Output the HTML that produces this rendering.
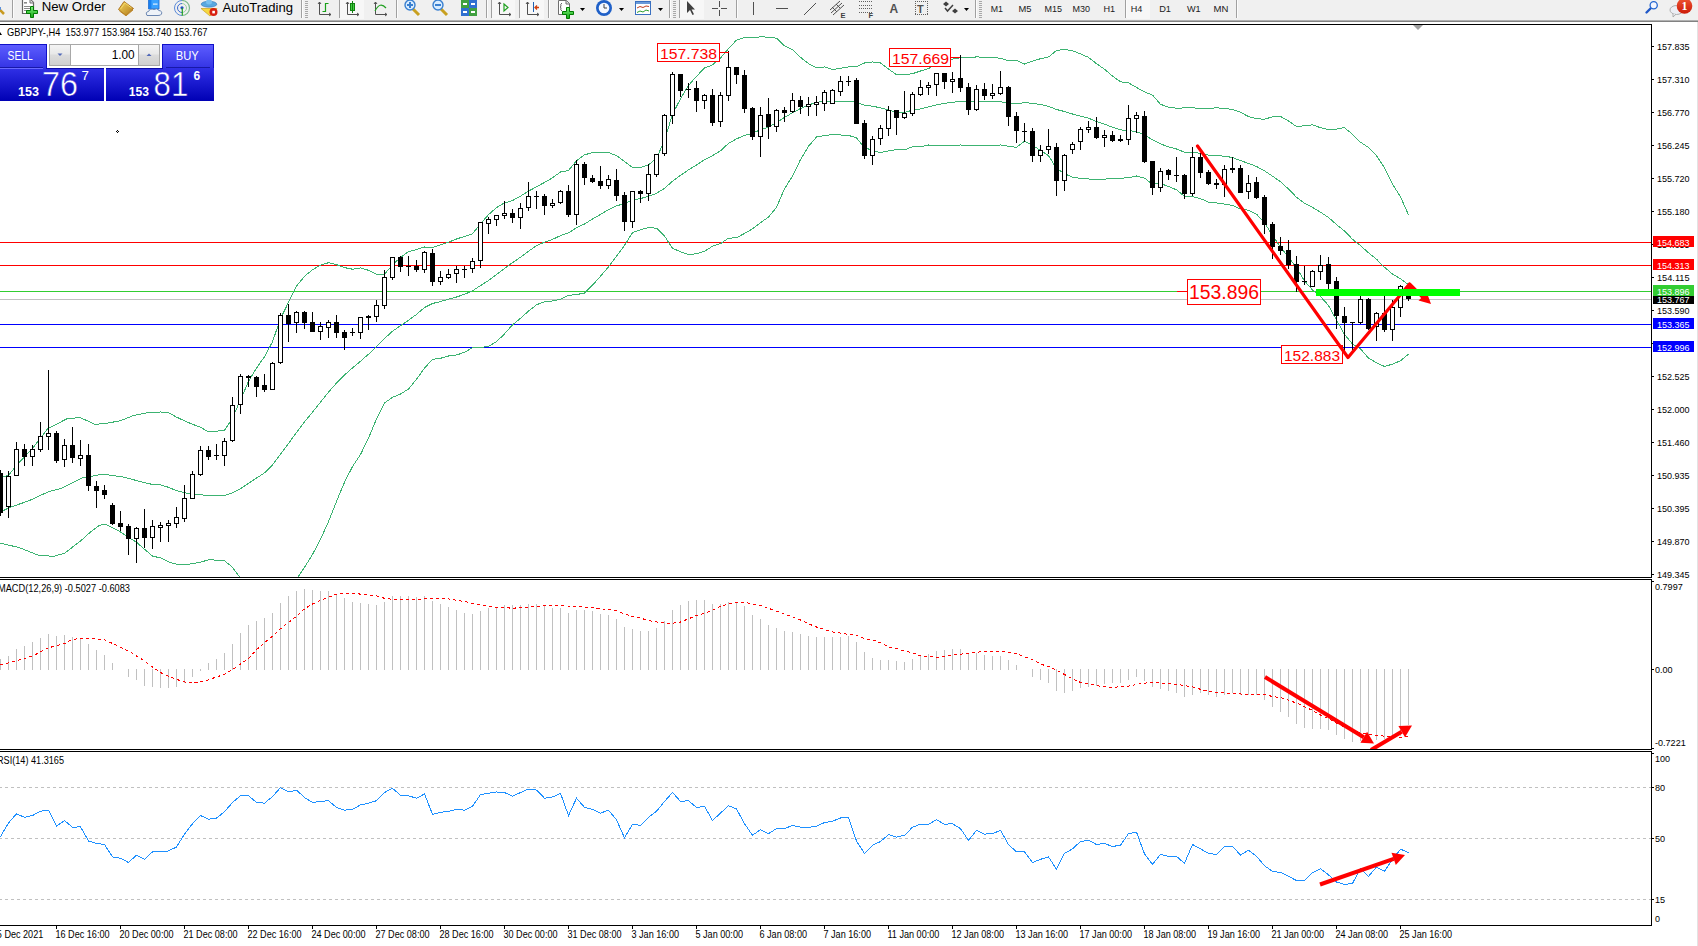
<!DOCTYPE html>
<html><head><meta charset="utf-8"><title>GBPJPY-,H4</title>
<style>
html,body{margin:0;padding:0;width:1698px;height:946px;overflow:hidden;background:#fff;}
#wrap{position:relative;width:1698px;height:946px;overflow:hidden;}
svg text{font-family:'Liberation Sans',Arial,sans-serif;}
</style></head><body><div id="wrap">
<svg width="1698" height="946" viewBox="0 0 1698 946" style="position:absolute;left:0;top:0">
<rect x="0" y="22" width="1698" height="924" fill="#fff"/>
<defs><clipPath id="mc"><rect x="0" y="25" width="1651" height="552"/></clipPath><clipPath id="mac"><rect x="0" y="580" width="1651" height="169"/></clipPath><clipPath id="rsc"><rect x="0" y="752" width="1651" height="173"/></clipPath></defs>
<rect x="1697" y="22" width="1" height="924" fill="#e3e3e3"/>
<g shape-rendering="crispEdges">
<rect x="0" y="242" width="1651" height="1" fill="#ff0000"/>
<rect x="0" y="265" width="1651" height="1" fill="#ff0000"/>
<rect x="0" y="291" width="1651" height="1" fill="#32cd32"/>
<rect x="0" y="299" width="1651" height="1" fill="#c0c0c0"/>
<rect x="0" y="324" width="1651" height="1" fill="#0000ff"/>
<rect x="0" y="347" width="1651" height="1" fill="#0000ff"/>
</g>
<g clip-path="url(#mc)" shape-rendering="crispEdges">
<polyline fill="none" stroke="#3cb371" stroke-width="1"  points="0.0,478.0 8.6,475.2 17.1,464.7 32.4,448.5 47.6,428.9 57.1,423.8 66.6,419.0 79.9,417.5 95.1,424.4 106.6,423.2 119.9,420.9 133.2,415.6 148.4,412.6 152.5,412.5 160.5,412.0 168.5,412.6 176.5,417.1 184.5,420.8 192.5,424.3 200.5,427.2 208.5,432.0 216.5,431.2 224.5,430.3 232.5,418.1 240.5,399.6 248.5,381.5 256.5,368.1 264.5,356.7 272.5,341.8 280.5,318.6 288.5,302.4 296.5,286.2 304.5,276.3 312.5,269.8 320.5,265.1 328.5,262.7 336.5,264.6 344.5,267.6 352.5,269.2 360.5,267.9 368.5,270.3 376.5,274.4 384.5,274.1 392.5,265.0 400.5,257.4 408.5,251.6 416.5,249.5 424.5,247.0 432.5,247.6 440.5,244.9 448.5,242.2 456.5,239.0 464.5,236.4 472.5,233.8 480.5,223.8 488.5,214.7 496.5,207.6 504.5,202.9 512.5,200.6 520.5,196.1 528.5,191.2 536.5,186.7 544.5,182.5 552.5,177.8 560.5,172.0 568.5,170.5 576.5,160.9 584.5,154.8 592.5,152.7 600.5,152.4 608.5,152.5 616.5,155.6 624.5,161.6 632.5,167.4 640.5,167.5 648.5,165.0 656.5,158.3 664.5,140.7 672.5,114.1 680.5,98.8 688.5,85.4 696.5,76.4 704.5,68.0 712.5,64.9 720.5,58.0 728.5,48.7 736.5,40.1 744.5,37.5 752.5,37.5 760.5,36.9 768.5,37.1 776.5,38.2 784.5,45.9 792.5,49.6 800.5,57.3 808.5,63.6 816.5,67.8 824.5,66.9 832.5,69.6 840.5,68.2 848.5,66.9 856.5,66.7 864.5,63.0 872.5,61.9 880.5,62.9 888.5,69.1 896.5,74.6 904.5,74.8 912.5,73.7 920.5,71.0 928.5,68.6 936.5,64.1 944.5,61.5 952.5,59.1 960.5,57.7 968.5,57.8 976.5,56.9 984.5,57.2 992.5,57.5 1000.5,58.3 1008.5,60.8 1016.5,60.3 1024.5,64.0 1032.5,61.2 1040.5,58.7 1048.5,57.0 1056.5,50.5 1064.5,49.4 1072.5,50.8 1080.5,53.8 1088.5,57.4 1096.5,63.7 1104.5,69.2 1112.5,76.0 1120.5,81.8 1128.5,82.8 1136.5,87.4 1144.5,91.9 1152.5,95.1 1160.5,104.3 1168.5,107.1 1176.5,108.2 1184.5,107.9 1192.5,107.9 1200.5,108.2 1208.5,108.3 1216.5,107.9 1224.5,108.3 1232.5,109.5 1240.5,112.2 1248.5,116.6 1256.5,118.8 1264.5,119.2 1272.5,116.8 1280.5,116.4 1288.5,120.9 1296.5,126.6 1304.5,125.7 1312.5,124.9 1320.5,127.7 1328.5,129.5 1336.5,129.1 1344.5,127.6 1352.5,134.4 1360.5,142.2 1368.5,147.5 1376.5,155.6 1384.5,167.9 1392.5,184.1 1400.5,196.8 1408.5,214.9"/>
<polyline fill="none" stroke="#3cb371" stroke-width="1"  points="0.0,512.3 9.5,507.5 28.5,500.9 49.5,491.3 60.9,488.5 81.8,478.0 102.8,474.2 123.7,477.1 148.4,483.7 152.5,484.3 160.5,484.9 168.5,487.3 176.5,490.7 184.5,492.7 192.5,494.0 200.5,494.7 208.5,495.9 216.5,495.6 224.5,495.4 232.5,492.8 240.5,488.8 248.5,483.3 256.5,478.1 264.5,472.9 272.5,464.8 280.5,454.2 288.5,443.4 296.5,432.6 304.5,421.9 312.5,412.1 320.5,402.2 328.5,392.2 336.5,383.0 344.5,375.0 352.5,367.9 360.5,361.2 368.5,354.2 376.5,346.7 384.5,338.6 392.5,331.2 400.5,325.7 408.5,320.3 416.5,314.4 424.5,307.5 432.5,303.5 440.5,301.6 448.5,299.1 456.5,297.0 464.5,294.3 472.5,290.8 480.5,285.6 488.5,280.5 496.5,274.6 504.5,268.4 512.5,262.7 520.5,257.2 528.5,251.2 536.5,245.7 544.5,242.1 552.5,239.4 560.5,235.6 568.5,232.9 576.5,227.7 584.5,224.0 592.5,219.0 600.5,214.4 608.5,209.6 616.5,205.9 624.5,203.5 632.5,200.0 640.5,198.6 648.5,196.3 656.5,193.3 664.5,188.3 672.5,181.2 680.5,175.3 688.5,169.9 696.5,165.1 704.5,159.6 712.5,155.6 720.5,150.8 728.5,143.4 736.5,138.9 744.5,135.5 752.5,133.2 760.5,129.7 768.5,127.1 776.5,122.8 784.5,117.4 792.5,112.8 800.5,108.5 808.5,105.0 816.5,102.4 824.5,101.3 832.5,102.0 840.5,101.6 848.5,101.2 856.5,102.3 864.5,105.3 872.5,106.2 880.5,107.8 888.5,110.0 896.5,112.1 904.5,112.4 912.5,110.2 920.5,108.9 928.5,106.8 936.5,104.9 944.5,103.4 952.5,102.3 960.5,101.4 968.5,101.6 976.5,101.0 984.5,101.2 992.5,101.3 1000.5,101.7 1008.5,103.5 1016.5,103.8 1024.5,102.6 1032.5,103.4 1040.5,104.5 1048.5,106.3 1056.5,109.5 1064.5,111.5 1072.5,114.0 1080.5,116.1 1088.5,118.2 1096.5,121.5 1104.5,124.1 1112.5,127.3 1120.5,129.9 1128.5,130.4 1136.5,131.7 1144.5,135.0 1152.5,139.7 1160.5,143.9 1168.5,146.8 1176.5,149.0 1184.5,152.2 1192.5,152.2 1200.5,153.4 1208.5,155.2 1216.5,155.5 1224.5,156.2 1232.5,157.5 1240.5,160.6 1248.5,163.4 1256.5,166.5 1264.5,170.9 1272.5,176.2 1280.5,181.7 1288.5,189.0 1296.5,197.3 1304.5,203.2 1312.5,207.4 1320.5,212.1 1328.5,217.5 1336.5,224.6 1344.5,231.0 1352.5,239.3 1360.5,245.6 1368.5,252.8 1376.5,259.2 1384.5,267.2 1392.5,274.1 1400.5,278.8 1408.5,284.6"/>
<polyline fill="none" stroke="#3cb371" stroke-width="1"  points="0.0,543.1 19.0,547.5 38.0,555.1 53.3,556.4 64.7,553.2 81.8,539.9 91.3,531.3 99.0,525.6 103.7,524.1 108.5,525.6 118.0,530.4 137.0,542.7 152.5,556.1 160.5,557.9 168.5,561.9 176.5,564.2 184.5,564.7 192.5,563.7 200.5,562.2 208.5,559.8 216.5,560.1 224.5,560.6 232.5,567.4 240.5,578.0 248.5,585.1 256.5,588.1 264.5,589.0 272.5,587.8 280.5,589.8 288.5,584.5 296.5,579.1 304.5,567.4 312.5,554.5 320.5,539.3 328.5,521.7 336.5,501.4 344.5,482.3 352.5,466.5 360.5,454.5 368.5,438.2 376.5,419.0 384.5,403.0 392.5,397.3 400.5,394.1 408.5,389.0 416.5,379.3 424.5,368.1 432.5,359.3 440.5,358.3 448.5,356.0 456.5,355.0 464.5,352.3 472.5,347.8 480.5,347.5 488.5,346.3 496.5,341.7 504.5,333.9 512.5,324.8 520.5,318.3 528.5,311.1 536.5,304.8 544.5,301.8 552.5,301.0 560.5,299.1 568.5,295.4 576.5,294.5 584.5,293.2 592.5,285.2 600.5,276.3 608.5,266.8 616.5,256.3 624.5,245.4 632.5,232.7 640.5,229.7 648.5,227.6 656.5,228.2 664.5,236.0 672.5,248.2 680.5,251.8 688.5,254.4 696.5,253.8 704.5,251.2 712.5,246.3 720.5,243.6 728.5,238.2 736.5,237.7 744.5,233.5 752.5,228.9 760.5,222.6 768.5,217.1 776.5,207.4 784.5,188.8 792.5,176.0 800.5,159.6 808.5,146.3 816.5,137.0 824.5,135.6 832.5,134.5 840.5,135.0 848.5,135.4 856.5,137.9 864.5,147.6 872.5,150.4 880.5,152.7 888.5,150.8 896.5,149.7 904.5,149.9 912.5,146.8 920.5,146.7 928.5,145.0 936.5,145.8 944.5,145.3 952.5,145.6 960.5,145.0 968.5,145.4 976.5,145.1 984.5,145.1 992.5,145.2 1000.5,145.0 1008.5,146.2 1016.5,147.3 1024.5,141.2 1032.5,145.5 1040.5,150.3 1048.5,155.6 1056.5,168.4 1064.5,173.7 1072.5,177.2 1080.5,178.4 1088.5,179.0 1096.5,179.2 1104.5,179.1 1112.5,178.5 1120.5,178.1 1128.5,177.9 1136.5,176.0 1144.5,178.1 1152.5,184.2 1160.5,183.5 1168.5,186.5 1176.5,189.8 1184.5,196.4 1192.5,196.5 1200.5,198.6 1208.5,202.2 1216.5,203.0 1224.5,204.1 1232.5,205.4 1240.5,209.0 1248.5,210.3 1256.5,214.1 1264.5,222.6 1272.5,235.6 1280.5,247.0 1288.5,257.1 1296.5,268.0 1304.5,280.8 1312.5,290.0 1320.5,296.5 1328.5,305.5 1336.5,320.0 1344.5,334.3 1352.5,344.1 1360.5,348.9 1368.5,358.1 1376.5,362.8 1384.5,366.5 1392.5,364.1 1400.5,360.8 1408.5,354.2"/>
</g>
<g shape-rendering="crispEdges">
<rect x="0" y="470" width="1" height="46" fill="#000"/>
<rect x="-2" y="473" width="5" height="40" fill="#000"/>
<rect x="8" y="471" width="1" height="47" fill="#000"/>
<rect x="6.5" y="476.5" width="4" height="30" fill="#fff" stroke="#000" stroke-width="1"/>
<rect x="16" y="442" width="1" height="34" fill="#000"/>
<rect x="14.5" y="449.5" width="4" height="26" fill="#fff" stroke="#000" stroke-width="1"/>
<rect x="24" y="444" width="1" height="22" fill="#000"/>
<rect x="22" y="449" width="5" height="8" fill="#000"/>
<rect x="32" y="445" width="1" height="21" fill="#000"/>
<rect x="30.5" y="449.5" width="4" height="7" fill="#fff" stroke="#000" stroke-width="1"/>
<rect x="40" y="422" width="1" height="30" fill="#000"/>
<rect x="38.5" y="436.5" width="4" height="13" fill="#fff" stroke="#000" stroke-width="1"/>
<rect x="48" y="370" width="1" height="80" fill="#000"/>
<rect x="46.5" y="433.5" width="4" height="3" fill="#fff" stroke="#000" stroke-width="1"/>
<rect x="56" y="431" width="1" height="32" fill="#000"/>
<rect x="54" y="433" width="5" height="28" fill="#000"/>
<rect x="64" y="439" width="1" height="28" fill="#000"/>
<rect x="62.5" y="445.5" width="4" height="14" fill="#fff" stroke="#000" stroke-width="1"/>
<rect x="72" y="427" width="1" height="36" fill="#000"/>
<rect x="70" y="445" width="5" height="13" fill="#000"/>
<rect x="80" y="440" width="1" height="26" fill="#000"/>
<rect x="78.5" y="455.5" width="4" height="3" fill="#fff" stroke="#000" stroke-width="1"/>
<rect x="88" y="444" width="1" height="47" fill="#000"/>
<rect x="86" y="455" width="5" height="31" fill="#000"/>
<rect x="96" y="481" width="1" height="27" fill="#000"/>
<rect x="94" y="486" width="5" height="5" fill="#000"/>
<rect x="104" y="485" width="1" height="14" fill="#000"/>
<rect x="102" y="490" width="5" height="5" fill="#000"/>
<rect x="112" y="503" width="1" height="22" fill="#000"/>
<rect x="110" y="505" width="5" height="19" fill="#000"/>
<rect x="120" y="511" width="1" height="20" fill="#000"/>
<rect x="118" y="523" width="5" height="4" fill="#000"/>
<rect x="128" y="524" width="1" height="31" fill="#000"/>
<rect x="126" y="526" width="5" height="13" fill="#000"/>
<rect x="136" y="527" width="1" height="36" fill="#000"/>
<rect x="134.5" y="528.5" width="4" height="10" fill="#fff" stroke="#000" stroke-width="1"/>
<rect x="144" y="509" width="1" height="39" fill="#000"/>
<rect x="142" y="528" width="5" height="10" fill="#000"/>
<rect x="152" y="520" width="1" height="29" fill="#000"/>
<rect x="150.5" y="526.5" width="4" height="11" fill="#fff" stroke="#000" stroke-width="1"/>
<rect x="160" y="522" width="1" height="20" fill="#000"/>
<rect x="158.5" y="525.5" width="4" height="2" fill="#fff" stroke="#000" stroke-width="1"/>
<rect x="168" y="520" width="1" height="22" fill="#000"/>
<rect x="166.5" y="523.5" width="4" height="2" fill="#fff" stroke="#000" stroke-width="1"/>
<rect x="176" y="507" width="1" height="21" fill="#000"/>
<rect x="174.5" y="517.5" width="4" height="6" fill="#fff" stroke="#000" stroke-width="1"/>
<rect x="184" y="485" width="1" height="37" fill="#000"/>
<rect x="182.5" y="498.5" width="4" height="20" fill="#fff" stroke="#000" stroke-width="1"/>
<rect x="192" y="471" width="1" height="28" fill="#000"/>
<rect x="190.5" y="474.5" width="4" height="24" fill="#fff" stroke="#000" stroke-width="1"/>
<rect x="200" y="446" width="1" height="30" fill="#000"/>
<rect x="198.5" y="450.5" width="4" height="24" fill="#fff" stroke="#000" stroke-width="1"/>
<rect x="208" y="446" width="1" height="14" fill="#000"/>
<rect x="206" y="450" width="5" height="7" fill="#000"/>
<rect x="216" y="444" width="1" height="16" fill="#000"/>
<rect x="214" y="455" width="5" height="1" fill="#000"/>
<rect x="224" y="438" width="1" height="28" fill="#000"/>
<rect x="222.5" y="441.5" width="4" height="14" fill="#fff" stroke="#000" stroke-width="1"/>
<rect x="232" y="397" width="1" height="45" fill="#000"/>
<rect x="230.5" y="405.5" width="4" height="35" fill="#fff" stroke="#000" stroke-width="1"/>
<rect x="240" y="374" width="1" height="40" fill="#000"/>
<rect x="238.5" y="376.5" width="4" height="28" fill="#fff" stroke="#000" stroke-width="1"/>
<rect x="248" y="375" width="1" height="12" fill="#000"/>
<rect x="246" y="376" width="5" height="2" fill="#000"/>
<rect x="256" y="376" width="1" height="21" fill="#000"/>
<rect x="254" y="377" width="5" height="10" fill="#000"/>
<rect x="264" y="374" width="1" height="18" fill="#000"/>
<rect x="262" y="385" width="5" height="5" fill="#000"/>
<rect x="272" y="362" width="1" height="28" fill="#000"/>
<rect x="270.5" y="363.5" width="4" height="26" fill="#fff" stroke="#000" stroke-width="1"/>
<rect x="280" y="313" width="1" height="51" fill="#000"/>
<rect x="278.5" y="315.5" width="4" height="47" fill="#fff" stroke="#000" stroke-width="1"/>
<rect x="288" y="304" width="1" height="38" fill="#000"/>
<rect x="286" y="315" width="5" height="9" fill="#000"/>
<rect x="296" y="311" width="1" height="22" fill="#000"/>
<rect x="294.5" y="312.5" width="4" height="10" fill="#fff" stroke="#000" stroke-width="1"/>
<rect x="304" y="311" width="1" height="18" fill="#000"/>
<rect x="302" y="312" width="5" height="11" fill="#000"/>
<rect x="312" y="312" width="1" height="20" fill="#000"/>
<rect x="310" y="322" width="5" height="10" fill="#000"/>
<rect x="320" y="322" width="1" height="18" fill="#000"/>
<rect x="318.5" y="326.5" width="4" height="5" fill="#fff" stroke="#000" stroke-width="1"/>
<rect x="328" y="320" width="1" height="18" fill="#000"/>
<rect x="326.5" y="322.5" width="4" height="5" fill="#fff" stroke="#000" stroke-width="1"/>
<rect x="336" y="315" width="1" height="23" fill="#000"/>
<rect x="334" y="322" width="5" height="11" fill="#000"/>
<rect x="344" y="330" width="1" height="20" fill="#000"/>
<rect x="342" y="332" width="5" height="6" fill="#000"/>
<rect x="352" y="328" width="1" height="8" fill="#000"/>
<rect x="350" y="332" width="5" height="1" fill="#000"/>
<rect x="360" y="317" width="1" height="22" fill="#000"/>
<rect x="358.5" y="317.5" width="4" height="15" fill="#fff" stroke="#000" stroke-width="1"/>
<rect x="368" y="315" width="1" height="15" fill="#000"/>
<rect x="366" y="316" width="5" height="2" fill="#000"/>
<rect x="376" y="300" width="1" height="22" fill="#000"/>
<rect x="374.5" y="305.5" width="4" height="11" fill="#fff" stroke="#000" stroke-width="1"/>
<rect x="384" y="270" width="1" height="39" fill="#000"/>
<rect x="382.5" y="277.5" width="4" height="28" fill="#fff" stroke="#000" stroke-width="1"/>
<rect x="392" y="257" width="1" height="23" fill="#000"/>
<rect x="390.5" y="257.5" width="4" height="20" fill="#fff" stroke="#000" stroke-width="1"/>
<rect x="400" y="256" width="1" height="16" fill="#000"/>
<rect x="398" y="257" width="5" height="10" fill="#000"/>
<rect x="408" y="256" width="1" height="20" fill="#000"/>
<rect x="406" y="266" width="5" height="1" fill="#000"/>
<rect x="416" y="260" width="1" height="12" fill="#000"/>
<rect x="414" y="266" width="5" height="4" fill="#000"/>
<rect x="424" y="251" width="1" height="22" fill="#000"/>
<rect x="422.5" y="252.5" width="4" height="17" fill="#fff" stroke="#000" stroke-width="1"/>
<rect x="432" y="249" width="1" height="37" fill="#000"/>
<rect x="430" y="253" width="5" height="29" fill="#000"/>
<rect x="440" y="271" width="1" height="14" fill="#000"/>
<rect x="438.5" y="277.5" width="4" height="4" fill="#fff" stroke="#000" stroke-width="1"/>
<rect x="448" y="269" width="1" height="10" fill="#000"/>
<rect x="446.5" y="274.5" width="4" height="3" fill="#fff" stroke="#000" stroke-width="1"/>
<rect x="456" y="266" width="1" height="17" fill="#000"/>
<rect x="454.5" y="269.5" width="4" height="4" fill="#fff" stroke="#000" stroke-width="1"/>
<rect x="464" y="266" width="1" height="12" fill="#000"/>
<rect x="462" y="269" width="5" height="1" fill="#000"/>
<rect x="472" y="258" width="1" height="15" fill="#000"/>
<rect x="470.5" y="261.5" width="4" height="7" fill="#fff" stroke="#000" stroke-width="1"/>
<rect x="480" y="222" width="1" height="46" fill="#000"/>
<rect x="478.5" y="222.5" width="4" height="38" fill="#fff" stroke="#000" stroke-width="1"/>
<rect x="488" y="217" width="1" height="17" fill="#000"/>
<rect x="486.5" y="219.5" width="4" height="4" fill="#fff" stroke="#000" stroke-width="1"/>
<rect x="496" y="215" width="1" height="11" fill="#000"/>
<rect x="494.5" y="215.5" width="4" height="4" fill="#fff" stroke="#000" stroke-width="1"/>
<rect x="504" y="201" width="1" height="18" fill="#000"/>
<rect x="502.5" y="213.5" width="4" height="2" fill="#fff" stroke="#000" stroke-width="1"/>
<rect x="512" y="209" width="1" height="14" fill="#000"/>
<rect x="510" y="213" width="5" height="5" fill="#000"/>
<rect x="520" y="203" width="1" height="26" fill="#000"/>
<rect x="518.5" y="208.5" width="4" height="9" fill="#fff" stroke="#000" stroke-width="1"/>
<rect x="528" y="182" width="1" height="29" fill="#000"/>
<rect x="526.5" y="196.5" width="4" height="11" fill="#fff" stroke="#000" stroke-width="1"/>
<rect x="536" y="191" width="1" height="18" fill="#000"/>
<rect x="534" y="196" width="5" height="1" fill="#000"/>
<rect x="544" y="194" width="1" height="21" fill="#000"/>
<rect x="542" y="196" width="5" height="10" fill="#000"/>
<rect x="552" y="199" width="1" height="9" fill="#000"/>
<rect x="550.5" y="203.5" width="4" height="2" fill="#fff" stroke="#000" stroke-width="1"/>
<rect x="560" y="190" width="1" height="14" fill="#000"/>
<rect x="558.5" y="191.5" width="4" height="11" fill="#fff" stroke="#000" stroke-width="1"/>
<rect x="568" y="185" width="1" height="32" fill="#000"/>
<rect x="566" y="191" width="5" height="24" fill="#000"/>
<rect x="576" y="160" width="1" height="65" fill="#000"/>
<rect x="574.5" y="164.5" width="4" height="50" fill="#fff" stroke="#000" stroke-width="1"/>
<rect x="584" y="162" width="1" height="23" fill="#000"/>
<rect x="582" y="164" width="5" height="14" fill="#000"/>
<rect x="592" y="175" width="1" height="8" fill="#000"/>
<rect x="590" y="178" width="5" height="4" fill="#000"/>
<rect x="600" y="166" width="1" height="23" fill="#000"/>
<rect x="598" y="181" width="5" height="5" fill="#000"/>
<rect x="608" y="175" width="1" height="14" fill="#000"/>
<rect x="606.5" y="179.5" width="4" height="6" fill="#fff" stroke="#000" stroke-width="1"/>
<rect x="616" y="169" width="1" height="32" fill="#000"/>
<rect x="614" y="180" width="5" height="16" fill="#000"/>
<rect x="624" y="192" width="1" height="39" fill="#000"/>
<rect x="622" y="195" width="5" height="27" fill="#000"/>
<rect x="632" y="191" width="1" height="37" fill="#000"/>
<rect x="630.5" y="191.5" width="4" height="30" fill="#fff" stroke="#000" stroke-width="1"/>
<rect x="640" y="190" width="1" height="13" fill="#000"/>
<rect x="638" y="191" width="5" height="3" fill="#000"/>
<rect x="648" y="164" width="1" height="37" fill="#000"/>
<rect x="646.5" y="174.5" width="4" height="19" fill="#fff" stroke="#000" stroke-width="1"/>
<rect x="656" y="154" width="1" height="23" fill="#000"/>
<rect x="654.5" y="154.5" width="4" height="20" fill="#fff" stroke="#000" stroke-width="1"/>
<rect x="664" y="114" width="1" height="42" fill="#000"/>
<rect x="662.5" y="115.5" width="4" height="38" fill="#fff" stroke="#000" stroke-width="1"/>
<rect x="672" y="72" width="1" height="52" fill="#000"/>
<rect x="670.5" y="74.5" width="4" height="41" fill="#fff" stroke="#000" stroke-width="1"/>
<rect x="680" y="74" width="1" height="23" fill="#000"/>
<rect x="678" y="74" width="5" height="17" fill="#000"/>
<rect x="688" y="83" width="1" height="15" fill="#000"/>
<rect x="686" y="89" width="5" height="1" fill="#000"/>
<rect x="696" y="81" width="1" height="31" fill="#000"/>
<rect x="694" y="88" width="5" height="13" fill="#000"/>
<rect x="704" y="94" width="1" height="15" fill="#000"/>
<rect x="702.5" y="95.5" width="4" height="5" fill="#fff" stroke="#000" stroke-width="1"/>
<rect x="712" y="89" width="1" height="37" fill="#000"/>
<rect x="710" y="95" width="5" height="28" fill="#000"/>
<rect x="720" y="92" width="1" height="35" fill="#000"/>
<rect x="718.5" y="95.5" width="4" height="26" fill="#fff" stroke="#000" stroke-width="1"/>
<rect x="728" y="51" width="1" height="50" fill="#000"/>
<rect x="726.5" y="67.5" width="4" height="28" fill="#fff" stroke="#000" stroke-width="1"/>
<rect x="736" y="67" width="1" height="17" fill="#000"/>
<rect x="734" y="67" width="5" height="8" fill="#000"/>
<rect x="744" y="70" width="1" height="43" fill="#000"/>
<rect x="742" y="75" width="5" height="34" fill="#000"/>
<rect x="752" y="107" width="1" height="33" fill="#000"/>
<rect x="750" y="108" width="5" height="29" fill="#000"/>
<rect x="760" y="107" width="1" height="50" fill="#000"/>
<rect x="758.5" y="115.5" width="4" height="21" fill="#fff" stroke="#000" stroke-width="1"/>
<rect x="768" y="98" width="1" height="41" fill="#000"/>
<rect x="766" y="114" width="5" height="13" fill="#000"/>
<rect x="776" y="109" width="1" height="23" fill="#000"/>
<rect x="774.5" y="110.5" width="4" height="16" fill="#fff" stroke="#000" stroke-width="1"/>
<rect x="784" y="107" width="1" height="15" fill="#000"/>
<rect x="782" y="110" width="5" height="3" fill="#000"/>
<rect x="792" y="93" width="1" height="20" fill="#000"/>
<rect x="790.5" y="100.5" width="4" height="11" fill="#fff" stroke="#000" stroke-width="1"/>
<rect x="800" y="96" width="1" height="18" fill="#000"/>
<rect x="798" y="100" width="5" height="7" fill="#000"/>
<rect x="808" y="97" width="1" height="19" fill="#000"/>
<rect x="806.5" y="104.5" width="4" height="2" fill="#fff" stroke="#000" stroke-width="1"/>
<rect x="816" y="96" width="1" height="20" fill="#000"/>
<rect x="814.5" y="102.5" width="4" height="2" fill="#fff" stroke="#000" stroke-width="1"/>
<rect x="824" y="90" width="1" height="21" fill="#000"/>
<rect x="822.5" y="92.5" width="4" height="11" fill="#fff" stroke="#000" stroke-width="1"/>
<rect x="832" y="89" width="1" height="15" fill="#000"/>
<rect x="830.5" y="90.5" width="4" height="13" fill="#fff" stroke="#000" stroke-width="1"/>
<rect x="840" y="76" width="1" height="20" fill="#000"/>
<rect x="838.5" y="81.5" width="4" height="10" fill="#fff" stroke="#000" stroke-width="1"/>
<rect x="848" y="76" width="1" height="10" fill="#000"/>
<rect x="846" y="81" width="5" height="1" fill="#000"/>
<rect x="856" y="78" width="1" height="46" fill="#000"/>
<rect x="854" y="80" width="5" height="44" fill="#000"/>
<rect x="864" y="120" width="1" height="39" fill="#000"/>
<rect x="862" y="123" width="5" height="33" fill="#000"/>
<rect x="872" y="136" width="1" height="29" fill="#000"/>
<rect x="870.5" y="139.5" width="4" height="16" fill="#fff" stroke="#000" stroke-width="1"/>
<rect x="880" y="125" width="1" height="20" fill="#000"/>
<rect x="878.5" y="128.5" width="4" height="10" fill="#fff" stroke="#000" stroke-width="1"/>
<rect x="888" y="106" width="1" height="30" fill="#000"/>
<rect x="886.5" y="110.5" width="4" height="18" fill="#fff" stroke="#000" stroke-width="1"/>
<rect x="896" y="110" width="1" height="25" fill="#000"/>
<rect x="894" y="110" width="5" height="8" fill="#000"/>
<rect x="904" y="91" width="1" height="28" fill="#000"/>
<rect x="902.5" y="113.5" width="4" height="4" fill="#fff" stroke="#000" stroke-width="1"/>
<rect x="912" y="92" width="1" height="24" fill="#000"/>
<rect x="910.5" y="94.5" width="4" height="19" fill="#fff" stroke="#000" stroke-width="1"/>
<rect x="920" y="80" width="1" height="16" fill="#000"/>
<rect x="918.5" y="87.5" width="4" height="7" fill="#fff" stroke="#000" stroke-width="1"/>
<rect x="928" y="82" width="1" height="13" fill="#000"/>
<rect x="926.5" y="85.5" width="4" height="2" fill="#fff" stroke="#000" stroke-width="1"/>
<rect x="936" y="73" width="1" height="23" fill="#000"/>
<rect x="934.5" y="73.5" width="4" height="11" fill="#fff" stroke="#000" stroke-width="1"/>
<rect x="944" y="73" width="1" height="16" fill="#000"/>
<rect x="942" y="73" width="5" height="9" fill="#000"/>
<rect x="952" y="72" width="1" height="21" fill="#000"/>
<rect x="950.5" y="79.5" width="4" height="2" fill="#fff" stroke="#000" stroke-width="1"/>
<rect x="960" y="55" width="1" height="37" fill="#000"/>
<rect x="958" y="78" width="5" height="10" fill="#000"/>
<rect x="968" y="83" width="1" height="32" fill="#000"/>
<rect x="966" y="87" width="5" height="23" fill="#000"/>
<rect x="976" y="85" width="1" height="26" fill="#000"/>
<rect x="974.5" y="89.5" width="4" height="20" fill="#fff" stroke="#000" stroke-width="1"/>
<rect x="984" y="83" width="1" height="17" fill="#000"/>
<rect x="982" y="89" width="5" height="7" fill="#000"/>
<rect x="992" y="84" width="1" height="15" fill="#000"/>
<rect x="990.5" y="93.5" width="4" height="2" fill="#fff" stroke="#000" stroke-width="1"/>
<rect x="1000" y="71" width="1" height="24" fill="#000"/>
<rect x="998.5" y="87.5" width="4" height="6" fill="#fff" stroke="#000" stroke-width="1"/>
<rect x="1008" y="86" width="1" height="40" fill="#000"/>
<rect x="1006" y="87" width="5" height="30" fill="#000"/>
<rect x="1016" y="112" width="1" height="31" fill="#000"/>
<rect x="1014" y="116" width="5" height="15" fill="#000"/>
<rect x="1024" y="123" width="1" height="19" fill="#000"/>
<rect x="1022" y="131" width="5" height="1" fill="#000"/>
<rect x="1032" y="128" width="1" height="34" fill="#000"/>
<rect x="1030" y="131" width="5" height="25" fill="#000"/>
<rect x="1040" y="145" width="1" height="17" fill="#000"/>
<rect x="1038.5" y="150.5" width="4" height="5" fill="#fff" stroke="#000" stroke-width="1"/>
<rect x="1048" y="129" width="1" height="25" fill="#000"/>
<rect x="1046.5" y="146.5" width="4" height="3" fill="#fff" stroke="#000" stroke-width="1"/>
<rect x="1056" y="143" width="1" height="53" fill="#000"/>
<rect x="1054" y="147" width="5" height="34" fill="#000"/>
<rect x="1064" y="154" width="1" height="37" fill="#000"/>
<rect x="1062.5" y="155.5" width="4" height="25" fill="#fff" stroke="#000" stroke-width="1"/>
<rect x="1072" y="142" width="1" height="12" fill="#000"/>
<rect x="1070.5" y="144.5" width="4" height="5" fill="#fff" stroke="#000" stroke-width="1"/>
<rect x="1080" y="127" width="1" height="23" fill="#000"/>
<rect x="1078.5" y="129.5" width="4" height="12" fill="#fff" stroke="#000" stroke-width="1"/>
<rect x="1088" y="121" width="1" height="12" fill="#000"/>
<rect x="1086.5" y="127.5" width="4" height="2" fill="#fff" stroke="#000" stroke-width="1"/>
<rect x="1096" y="117" width="1" height="22" fill="#000"/>
<rect x="1094" y="127" width="5" height="11" fill="#000"/>
<rect x="1104" y="130" width="1" height="17" fill="#000"/>
<rect x="1102.5" y="135.5" width="4" height="2" fill="#fff" stroke="#000" stroke-width="1"/>
<rect x="1112" y="131" width="1" height="11" fill="#000"/>
<rect x="1110" y="135" width="5" height="6" fill="#000"/>
<rect x="1120" y="135" width="1" height="7" fill="#000"/>
<rect x="1118" y="139" width="5" height="2" fill="#000"/>
<rect x="1128" y="105" width="1" height="40" fill="#000"/>
<rect x="1126.5" y="118.5" width="4" height="21" fill="#fff" stroke="#000" stroke-width="1"/>
<rect x="1136" y="112" width="1" height="21" fill="#000"/>
<rect x="1134.5" y="115.5" width="4" height="3" fill="#fff" stroke="#000" stroke-width="1"/>
<rect x="1144" y="111" width="1" height="52" fill="#000"/>
<rect x="1142" y="116" width="5" height="46" fill="#000"/>
<rect x="1152" y="161" width="1" height="34" fill="#000"/>
<rect x="1150" y="161" width="5" height="27" fill="#000"/>
<rect x="1160" y="168" width="1" height="24" fill="#000"/>
<rect x="1158.5" y="171.5" width="4" height="16" fill="#fff" stroke="#000" stroke-width="1"/>
<rect x="1168" y="169" width="1" height="11" fill="#000"/>
<rect x="1166" y="170" width="5" height="5" fill="#000"/>
<rect x="1176" y="157" width="1" height="25" fill="#000"/>
<rect x="1174" y="175" width="5" height="1" fill="#000"/>
<rect x="1184" y="174" width="1" height="25" fill="#000"/>
<rect x="1182" y="175" width="5" height="19" fill="#000"/>
<rect x="1192" y="147" width="1" height="49" fill="#000"/>
<rect x="1190.5" y="157.5" width="4" height="36" fill="#fff" stroke="#000" stroke-width="1"/>
<rect x="1200" y="153" width="1" height="25" fill="#000"/>
<rect x="1198" y="157" width="5" height="16" fill="#000"/>
<rect x="1208" y="170" width="1" height="15" fill="#000"/>
<rect x="1206" y="172" width="5" height="12" fill="#000"/>
<rect x="1216" y="179" width="1" height="10" fill="#000"/>
<rect x="1214" y="183" width="5" height="2" fill="#000"/>
<rect x="1224" y="165" width="1" height="32" fill="#000"/>
<rect x="1222.5" y="169.5" width="4" height="15" fill="#fff" stroke="#000" stroke-width="1"/>
<rect x="1232" y="157" width="1" height="16" fill="#000"/>
<rect x="1230" y="168" width="5" height="2" fill="#000"/>
<rect x="1240" y="165" width="1" height="28" fill="#000"/>
<rect x="1238" y="168" width="5" height="25" fill="#000"/>
<rect x="1248" y="175" width="1" height="24" fill="#000"/>
<rect x="1246.5" y="183.5" width="4" height="8" fill="#fff" stroke="#000" stroke-width="1"/>
<rect x="1256" y="177" width="1" height="22" fill="#000"/>
<rect x="1254" y="182" width="5" height="16" fill="#000"/>
<rect x="1264" y="195" width="1" height="39" fill="#000"/>
<rect x="1262" y="197" width="5" height="28" fill="#000"/>
<rect x="1272" y="222" width="1" height="37" fill="#000"/>
<rect x="1270" y="224" width="5" height="23" fill="#000"/>
<rect x="1280" y="237" width="1" height="18" fill="#000"/>
<rect x="1278" y="246" width="5" height="5" fill="#000"/>
<rect x="1288" y="240" width="1" height="29" fill="#000"/>
<rect x="1286" y="250" width="5" height="15" fill="#000"/>
<rect x="1296" y="256" width="1" height="36" fill="#000"/>
<rect x="1294" y="264" width="5" height="18" fill="#000"/>
<rect x="1304" y="266" width="1" height="19" fill="#000"/>
<rect x="1302" y="281" width="5" height="1" fill="#000"/>
<rect x="1312" y="270" width="1" height="17" fill="#000"/>
<rect x="1310.5" y="271.5" width="4" height="15" fill="#fff" stroke="#000" stroke-width="1"/>
<rect x="1320" y="255" width="1" height="25" fill="#000"/>
<rect x="1318.5" y="265.5" width="4" height="6" fill="#fff" stroke="#000" stroke-width="1"/>
<rect x="1328" y="257" width="1" height="32" fill="#000"/>
<rect x="1326" y="264" width="5" height="20" fill="#000"/>
<rect x="1336" y="277" width="1" height="52" fill="#000"/>
<rect x="1334" y="281" width="5" height="35" fill="#000"/>
<rect x="1344" y="307" width="1" height="47" fill="#000"/>
<rect x="1342" y="316" width="5" height="7" fill="#000"/>
<rect x="1352" y="322" width="1" height="28" fill="#000"/>
<rect x="1350" y="322" width="5" height="1" fill="#000"/>
<rect x="1360" y="296" width="1" height="28" fill="#000"/>
<rect x="1358.5" y="299.5" width="4" height="23" fill="#fff" stroke="#000" stroke-width="1"/>
<rect x="1368" y="298" width="1" height="32" fill="#000"/>
<rect x="1366" y="299" width="5" height="30" fill="#000"/>
<rect x="1376" y="312" width="1" height="29" fill="#000"/>
<rect x="1374.5" y="313.5" width="4" height="13" fill="#fff" stroke="#000" stroke-width="1"/>
<rect x="1384" y="296" width="1" height="36" fill="#000"/>
<rect x="1382" y="313" width="5" height="17" fill="#000"/>
<rect x="1392" y="300" width="1" height="41" fill="#000"/>
<rect x="1390.5" y="307.5" width="4" height="22" fill="#fff" stroke="#000" stroke-width="1"/>
<rect x="1400" y="285" width="1" height="32" fill="#000"/>
<rect x="1398.5" y="286.5" width="4" height="21" fill="#fff" stroke="#000" stroke-width="1"/>
<rect x="1408" y="285" width="1" height="16" fill="#000"/>
<rect x="1406" y="286" width="5" height="13" fill="#000"/>
</g>
<g shape-rendering="crispEdges" fill="#000">
<rect x="0" y="24" width="1652" height="1"/>
<rect x="0" y="577" width="1652" height="1"/>
<rect x="0" y="579" width="1652" height="1"/>
<rect x="0" y="749" width="1652" height="1"/>
<rect x="0" y="751" width="1652" height="1"/>
<rect x="0" y="925" width="1652" height="1"/>
<rect x="1651" y="24" width="1" height="554"/>
<rect x="1651" y="579" width="1" height="171"/>
<rect x="1651" y="751" width="1" height="175"/>
</g>
<polygon points="1413,25 1423,25 1418,30" fill="#a0a0a0"/>
<g fill="#000" shape-rendering="crispEdges"><rect x="117" y="130" width="1" height="1"/><rect x="116" y="131" width="1" height="1"/><rect x="118" y="131" width="1" height="1"/><rect x="117" y="132" width="1" height="1"/></g>
<g style="font-family:'Liberation Sans',Arial,sans-serif">
<g shape-rendering="crispEdges" fill="#000">
<rect x="1652" y="46" width="2" height="1"/>
<rect x="1652" y="79" width="2" height="1"/>
<rect x="1652" y="112" width="2" height="1"/>
<rect x="1652" y="145" width="2" height="1"/>
<rect x="1652" y="178" width="2" height="1"/>
<rect x="1652" y="211" width="2" height="1"/>
<rect x="1652" y="244" width="2" height="1"/>
<rect x="1652" y="277" width="2" height="1"/>
<rect x="1652" y="310" width="2" height="1"/>
<rect x="1652" y="343" width="2" height="1"/>
<rect x="1652" y="376" width="2" height="1"/>
<rect x="1652" y="409" width="2" height="1"/>
<rect x="1652" y="442" width="2" height="1"/>
<rect x="1652" y="475" width="2" height="1"/>
<rect x="1652" y="508" width="2" height="1"/>
<rect x="1652" y="541" width="2" height="1"/>
<rect x="1652" y="574" width="2" height="1"/>
</g>
<text x="1657" y="50.1" font-size="9.6" fill="#000" text-anchor="start" font-weight="normal" textLength="32.6" lengthAdjust="spacingAndGlyphs" >157.835</text>
<text x="1657" y="83.1" font-size="9.6" fill="#000" text-anchor="start" font-weight="normal" textLength="32.6" lengthAdjust="spacingAndGlyphs" >157.310</text>
<text x="1657" y="116.1" font-size="9.6" fill="#000" text-anchor="start" font-weight="normal" textLength="32.6" lengthAdjust="spacingAndGlyphs" >156.770</text>
<text x="1657" y="149.1" font-size="9.6" fill="#000" text-anchor="start" font-weight="normal" textLength="32.6" lengthAdjust="spacingAndGlyphs" >156.245</text>
<text x="1657" y="182.1" font-size="9.6" fill="#000" text-anchor="start" font-weight="normal" textLength="32.6" lengthAdjust="spacingAndGlyphs" >155.720</text>
<text x="1657" y="215.1" font-size="9.6" fill="#000" text-anchor="start" font-weight="normal" textLength="32.6" lengthAdjust="spacingAndGlyphs" >155.180</text>
<text x="1657" y="248.1" font-size="9.6" fill="#000" text-anchor="start" font-weight="normal" textLength="32.6" lengthAdjust="spacingAndGlyphs" >154.655</text>
<text x="1657" y="281.1" font-size="9.6" fill="#000" text-anchor="start" font-weight="normal" textLength="32.6" lengthAdjust="spacingAndGlyphs" >154.115</text>
<text x="1657" y="314.1" font-size="9.6" fill="#000" text-anchor="start" font-weight="normal" textLength="32.6" lengthAdjust="spacingAndGlyphs" >153.590</text>
<text x="1657" y="347.1" font-size="9.6" fill="#000" text-anchor="start" font-weight="normal" textLength="32.6" lengthAdjust="spacingAndGlyphs" >153.065</text>
<text x="1657" y="380.1" font-size="9.6" fill="#000" text-anchor="start" font-weight="normal" textLength="32.6" lengthAdjust="spacingAndGlyphs" >152.525</text>
<text x="1657" y="413.1" font-size="9.6" fill="#000" text-anchor="start" font-weight="normal" textLength="32.6" lengthAdjust="spacingAndGlyphs" >152.000</text>
<text x="1657" y="446.1" font-size="9.6" fill="#000" text-anchor="start" font-weight="normal" textLength="32.6" lengthAdjust="spacingAndGlyphs" >151.460</text>
<text x="1657" y="479.1" font-size="9.6" fill="#000" text-anchor="start" font-weight="normal" textLength="32.6" lengthAdjust="spacingAndGlyphs" >150.935</text>
<text x="1657" y="512.1" font-size="9.6" fill="#000" text-anchor="start" font-weight="normal" textLength="32.6" lengthAdjust="spacingAndGlyphs" >150.395</text>
<text x="1657" y="545.1" font-size="9.6" fill="#000" text-anchor="start" font-weight="normal" textLength="32.6" lengthAdjust="spacingAndGlyphs" >149.870</text>
<text x="1657" y="578.1" font-size="9.6" fill="#000" text-anchor="start" font-weight="normal" textLength="32.6" lengthAdjust="spacingAndGlyphs" >149.345</text>
<rect x="1653" y="236" width="41" height="11" fill="#ff0000" shape-rendering="crispEdges"/>
<text x="1657" y="245.7" font-size="9.6" fill="#fff" text-anchor="start" font-weight="normal" textLength="32.6" lengthAdjust="spacingAndGlyphs" >154.683</text>
<rect x="1653" y="259" width="41" height="11" fill="#ff0000" shape-rendering="crispEdges"/>
<text x="1657" y="268.7" font-size="9.6" fill="#fff" text-anchor="start" font-weight="normal" textLength="32.6" lengthAdjust="spacingAndGlyphs" >154.313</text>
<rect x="1653" y="293" width="41" height="11" fill="#000" shape-rendering="crispEdges"/>
<text x="1657" y="302.7" font-size="9.6" fill="#fff" text-anchor="start" font-weight="normal" textLength="32.6" lengthAdjust="spacingAndGlyphs" >153.767</text>
<rect x="1653" y="285" width="41" height="11" fill="#32cd32" shape-rendering="crispEdges"/>
<text x="1657" y="294.7" font-size="9.6" fill="#fff" text-anchor="start" font-weight="normal" textLength="32.6" lengthAdjust="spacingAndGlyphs" >153.896</text>
<rect x="1653" y="318" width="41" height="11" fill="#0000ff" shape-rendering="crispEdges"/>
<text x="1657" y="327.7" font-size="9.6" fill="#fff" text-anchor="start" font-weight="normal" textLength="32.6" lengthAdjust="spacingAndGlyphs" >153.365</text>
<rect x="1653" y="341" width="41" height="11" fill="#0000ff" shape-rendering="crispEdges"/>
<text x="1657" y="350.7" font-size="9.6" fill="#fff" text-anchor="start" font-weight="normal" textLength="32.6" lengthAdjust="spacingAndGlyphs" >152.996</text>
<g shape-rendering="crispEdges" fill="#000">
<rect x="56" y="926" width="1" height="3"/>
<rect x="120" y="926" width="1" height="3"/>
<rect x="184" y="926" width="1" height="3"/>
<rect x="248" y="926" width="1" height="3"/>
<rect x="312" y="926" width="1" height="3"/>
<rect x="376" y="926" width="1" height="3"/>
<rect x="440" y="926" width="1" height="3"/>
<rect x="504" y="926" width="1" height="3"/>
<rect x="568" y="926" width="1" height="3"/>
<rect x="632" y="926" width="1" height="3"/>
<rect x="696" y="926" width="1" height="3"/>
<rect x="760" y="926" width="1" height="3"/>
<rect x="824" y="926" width="1" height="3"/>
<rect x="888" y="926" width="1" height="3"/>
<rect x="952" y="926" width="1" height="3"/>
<rect x="1016" y="926" width="1" height="3"/>
<rect x="1080" y="926" width="1" height="3"/>
<rect x="1144" y="926" width="1" height="3"/>
<rect x="1208" y="926" width="1" height="3"/>
<rect x="1272" y="926" width="1" height="3"/>
<rect x="1336" y="926" width="1" height="3"/>
<rect x="1400" y="926" width="1" height="3"/>
</g>
<text x="55.5" y="938" font-size="10.2" fill="#000" text-anchor="start" font-weight="normal" textLength="54.0" lengthAdjust="spacingAndGlyphs" >16 Dec 16:00</text>
<text x="119.5" y="938" font-size="10.2" fill="#000" text-anchor="start" font-weight="normal" textLength="54.0" lengthAdjust="spacingAndGlyphs" >20 Dec 00:00</text>
<text x="183.5" y="938" font-size="10.2" fill="#000" text-anchor="start" font-weight="normal" textLength="54.0" lengthAdjust="spacingAndGlyphs" >21 Dec 08:00</text>
<text x="247.5" y="938" font-size="10.2" fill="#000" text-anchor="start" font-weight="normal" textLength="54.0" lengthAdjust="spacingAndGlyphs" >22 Dec 16:00</text>
<text x="311.5" y="938" font-size="10.2" fill="#000" text-anchor="start" font-weight="normal" textLength="54.0" lengthAdjust="spacingAndGlyphs" >24 Dec 00:00</text>
<text x="375.5" y="938" font-size="10.2" fill="#000" text-anchor="start" font-weight="normal" textLength="54.0" lengthAdjust="spacingAndGlyphs" >27 Dec 08:00</text>
<text x="439.5" y="938" font-size="10.2" fill="#000" text-anchor="start" font-weight="normal" textLength="54.0" lengthAdjust="spacingAndGlyphs" >28 Dec 16:00</text>
<text x="503.5" y="938" font-size="10.2" fill="#000" text-anchor="start" font-weight="normal" textLength="54.0" lengthAdjust="spacingAndGlyphs" >30 Dec 00:00</text>
<text x="567.5" y="938" font-size="10.2" fill="#000" text-anchor="start" font-weight="normal" textLength="54.0" lengthAdjust="spacingAndGlyphs" >31 Dec 08:00</text>
<text x="631.5" y="938" font-size="10.2" fill="#000" text-anchor="start" font-weight="normal" textLength="47.5" lengthAdjust="spacingAndGlyphs" >3 Jan 16:00</text>
<text x="695.5" y="938" font-size="10.2" fill="#000" text-anchor="start" font-weight="normal" textLength="47.5" lengthAdjust="spacingAndGlyphs" >5 Jan 00:00</text>
<text x="759.5" y="938" font-size="10.2" fill="#000" text-anchor="start" font-weight="normal" textLength="47.5" lengthAdjust="spacingAndGlyphs" >6 Jan 08:00</text>
<text x="823.5" y="938" font-size="10.2" fill="#000" text-anchor="start" font-weight="normal" textLength="47.5" lengthAdjust="spacingAndGlyphs" >7 Jan 16:00</text>
<text x="887.5" y="938" font-size="10.2" fill="#000" text-anchor="start" font-weight="normal" textLength="51.8" lengthAdjust="spacingAndGlyphs" >11 Jan 00:00</text>
<text x="951.5" y="938" font-size="10.2" fill="#000" text-anchor="start" font-weight="normal" textLength="52.5" lengthAdjust="spacingAndGlyphs" >12 Jan 08:00</text>
<text x="1015.5" y="938" font-size="10.2" fill="#000" text-anchor="start" font-weight="normal" textLength="52.5" lengthAdjust="spacingAndGlyphs" >13 Jan 16:00</text>
<text x="1079.5" y="938" font-size="10.2" fill="#000" text-anchor="start" font-weight="normal" textLength="52.5" lengthAdjust="spacingAndGlyphs" >17 Jan 00:00</text>
<text x="1143.5" y="938" font-size="10.2" fill="#000" text-anchor="start" font-weight="normal" textLength="52.5" lengthAdjust="spacingAndGlyphs" >18 Jan 08:00</text>
<text x="1207.5" y="938" font-size="10.2" fill="#000" text-anchor="start" font-weight="normal" textLength="52.5" lengthAdjust="spacingAndGlyphs" >19 Jan 16:00</text>
<text x="1271.5" y="938" font-size="10.2" fill="#000" text-anchor="start" font-weight="normal" textLength="52.5" lengthAdjust="spacingAndGlyphs" >21 Jan 00:00</text>
<text x="1335.5" y="938" font-size="10.2" fill="#000" text-anchor="start" font-weight="normal" textLength="52.5" lengthAdjust="spacingAndGlyphs" >24 Jan 08:00</text>
<text x="1399.5" y="938" font-size="10.2" fill="#000" text-anchor="start" font-weight="normal" textLength="52.5" lengthAdjust="spacingAndGlyphs" >25 Jan 16:00</text>
<text x="-8.2212" y="938" font-size="10.2" fill="#000" text-anchor="start" font-weight="normal" textLength="51.5" lengthAdjust="spacingAndGlyphs" >15 Dec 2021</text>
<text x="7" y="36" font-size="10.2" fill="#000" text-anchor="start" font-weight="normal" textLength="200.5" lengthAdjust="spacingAndGlyphs" >GBPJPY-,H4&#160;&#160;153.977 153.984 153.740 153.767</text>
<polygon points="0,32 2,35 0,35" fill="#000"/>
</g>
<g shape-rendering="crispEdges" fill="#c0c0c0">
<rect x="0" y="659" width="1" height="11"/>
<rect x="8" y="656" width="1" height="14"/>
<rect x="16" y="649" width="1" height="21"/>
<rect x="24" y="646" width="1" height="24"/>
<rect x="32" y="642" width="1" height="28"/>
<rect x="40" y="638" width="1" height="32"/>
<rect x="48" y="634" width="1" height="36"/>
<rect x="56" y="636" width="1" height="34"/>
<rect x="64" y="635" width="1" height="35"/>
<rect x="72" y="637" width="1" height="33"/>
<rect x="80" y="638" width="1" height="32"/>
<rect x="88" y="644" width="1" height="26"/>
<rect x="96" y="650" width="1" height="20"/>
<rect x="104" y="655" width="1" height="15"/>
<rect x="112" y="663" width="1" height="7"/>
<rect x="128" y="669" width="1" height="8"/>
<rect x="136" y="669" width="1" height="11"/>
<rect x="144" y="669" width="1" height="17"/>
<rect x="152" y="669" width="1" height="18"/>
<rect x="160" y="669" width="1" height="19"/>
<rect x="168" y="669" width="1" height="19"/>
<rect x="176" y="669" width="1" height="18"/>
<rect x="184" y="669" width="1" height="14"/>
<rect x="192" y="669" width="1" height="8"/>
<rect x="200" y="669" width="1" height="2"/>
<rect x="208" y="663" width="1" height="7"/>
<rect x="216" y="659" width="1" height="11"/>
<rect x="224" y="653" width="1" height="17"/>
<rect x="232" y="644" width="1" height="26"/>
<rect x="240" y="633" width="1" height="37"/>
<rect x="248" y="625" width="1" height="45"/>
<rect x="256" y="621" width="1" height="49"/>
<rect x="264" y="618" width="1" height="52"/>
<rect x="272" y="613" width="1" height="57"/>
<rect x="280" y="603" width="1" height="67"/>
<rect x="288" y="596" width="1" height="74"/>
<rect x="296" y="591" width="1" height="79"/>
<rect x="304" y="589" width="1" height="81"/>
<rect x="312" y="590" width="1" height="80"/>
<rect x="320" y="591" width="1" height="79"/>
<rect x="328" y="591" width="1" height="79"/>
<rect x="336" y="594" width="1" height="76"/>
<rect x="344" y="598" width="1" height="72"/>
<rect x="352" y="602" width="1" height="68"/>
<rect x="360" y="603" width="1" height="67"/>
<rect x="368" y="604" width="1" height="66"/>
<rect x="376" y="605" width="1" height="65"/>
<rect x="384" y="602" width="1" height="68"/>
<rect x="392" y="596" width="1" height="74"/>
<rect x="400" y="596" width="1" height="74"/>
<rect x="408" y="596" width="1" height="74"/>
<rect x="416" y="597" width="1" height="73"/>
<rect x="424" y="596" width="1" height="74"/>
<rect x="432" y="601" width="1" height="69"/>
<rect x="440" y="604" width="1" height="66"/>
<rect x="448" y="607" width="1" height="63"/>
<rect x="456" y="610" width="1" height="60"/>
<rect x="464" y="613" width="1" height="57"/>
<rect x="472" y="614" width="1" height="56"/>
<rect x="480" y="611" width="1" height="59"/>
<rect x="488" y="608" width="1" height="62"/>
<rect x="496" y="607" width="1" height="63"/>
<rect x="504" y="605" width="1" height="65"/>
<rect x="512" y="605" width="1" height="65"/>
<rect x="520" y="605" width="1" height="65"/>
<rect x="528" y="604" width="1" height="66"/>
<rect x="536" y="604" width="1" height="66"/>
<rect x="544" y="605" width="1" height="65"/>
<rect x="552" y="608" width="1" height="62"/>
<rect x="560" y="608" width="1" height="62"/>
<rect x="568" y="613" width="1" height="57"/>
<rect x="576" y="610" width="1" height="60"/>
<rect x="584" y="610" width="1" height="60"/>
<rect x="592" y="611" width="1" height="59"/>
<rect x="600" y="614" width="1" height="56"/>
<rect x="608" y="615" width="1" height="55"/>
<rect x="616" y="619" width="1" height="51"/>
<rect x="624" y="627" width="1" height="43"/>
<rect x="632" y="629" width="1" height="41"/>
<rect x="640" y="631" width="1" height="39"/>
<rect x="648" y="631" width="1" height="39"/>
<rect x="656" y="628" width="1" height="42"/>
<rect x="664" y="621" width="1" height="49"/>
<rect x="672" y="610" width="1" height="60"/>
<rect x="680" y="605" width="1" height="65"/>
<rect x="688" y="601" width="1" height="69"/>
<rect x="696" y="600" width="1" height="70"/>
<rect x="704" y="600" width="1" height="70"/>
<rect x="712" y="604" width="1" height="66"/>
<rect x="720" y="604" width="1" height="66"/>
<rect x="728" y="602" width="1" height="68"/>
<rect x="736" y="602" width="1" height="68"/>
<rect x="744" y="606" width="1" height="64"/>
<rect x="752" y="615" width="1" height="55"/>
<rect x="760" y="619" width="1" height="51"/>
<rect x="768" y="625" width="1" height="45"/>
<rect x="776" y="628" width="1" height="42"/>
<rect x="784" y="631" width="1" height="39"/>
<rect x="792" y="632" width="1" height="38"/>
<rect x="800" y="634" width="1" height="36"/>
<rect x="808" y="636" width="1" height="34"/>
<rect x="816" y="637" width="1" height="33"/>
<rect x="824" y="637" width="1" height="33"/>
<rect x="832" y="637" width="1" height="33"/>
<rect x="840" y="637" width="1" height="33"/>
<rect x="848" y="636" width="1" height="34"/>
<rect x="856" y="642" width="1" height="28"/>
<rect x="864" y="652" width="1" height="18"/>
<rect x="872" y="658" width="1" height="12"/>
<rect x="880" y="660" width="1" height="10"/>
<rect x="888" y="660" width="1" height="10"/>
<rect x="896" y="661" width="1" height="9"/>
<rect x="904" y="662" width="1" height="8"/>
<rect x="912" y="659" width="1" height="11"/>
<rect x="920" y="656" width="1" height="14"/>
<rect x="928" y="654" width="1" height="16"/>
<rect x="936" y="651" width="1" height="19"/>
<rect x="944" y="650" width="1" height="20"/>
<rect x="952" y="649" width="1" height="21"/>
<rect x="960" y="649" width="1" height="21"/>
<rect x="968" y="653" width="1" height="17"/>
<rect x="976" y="653" width="1" height="17"/>
<rect x="984" y="655" width="1" height="15"/>
<rect x="992" y="656" width="1" height="14"/>
<rect x="1000" y="656" width="1" height="14"/>
<rect x="1008" y="660" width="1" height="10"/>
<rect x="1016" y="665" width="1" height="5"/>
<rect x="1032" y="669" width="1" height="8"/>
<rect x="1040" y="669" width="1" height="11"/>
<rect x="1048" y="669" width="1" height="14"/>
<rect x="1056" y="669" width="1" height="22"/>
<rect x="1064" y="669" width="1" height="24"/>
<rect x="1072" y="669" width="1" height="22"/>
<rect x="1080" y="669" width="1" height="19"/>
<rect x="1088" y="669" width="1" height="18"/>
<rect x="1096" y="669" width="1" height="17"/>
<rect x="1104" y="669" width="1" height="15"/>
<rect x="1112" y="669" width="1" height="14"/>
<rect x="1120" y="669" width="1" height="14"/>
<rect x="1128" y="669" width="1" height="11"/>
<rect x="1136" y="669" width="1" height="8"/>
<rect x="1144" y="669" width="1" height="12"/>
<rect x="1152" y="669" width="1" height="18"/>
<rect x="1160" y="669" width="1" height="20"/>
<rect x="1168" y="669" width="1" height="22"/>
<rect x="1176" y="669" width="1" height="24"/>
<rect x="1184" y="669" width="1" height="28"/>
<rect x="1192" y="669" width="1" height="26"/>
<rect x="1200" y="669" width="1" height="24"/>
<rect x="1208" y="669" width="1" height="26"/>
<rect x="1216" y="669" width="1" height="28"/>
<rect x="1224" y="669" width="1" height="26"/>
<rect x="1232" y="669" width="1" height="24"/>
<rect x="1240" y="669" width="1" height="26"/>
<rect x="1248" y="669" width="1" height="26"/>
<rect x="1256" y="669" width="1" height="26"/>
<rect x="1264" y="669" width="1" height="31"/>
<rect x="1272" y="669" width="1" height="38"/>
<rect x="1280" y="669" width="1" height="43"/>
<rect x="1288" y="669" width="1" height="48"/>
<rect x="1296" y="669" width="1" height="55"/>
<rect x="1304" y="669" width="1" height="59"/>
<rect x="1312" y="669" width="1" height="60"/>
<rect x="1320" y="669" width="1" height="60"/>
<rect x="1328" y="669" width="1" height="61"/>
<rect x="1336" y="669" width="1" height="66"/>
<rect x="1344" y="669" width="1" height="70"/>
<rect x="1352" y="669" width="1" height="73"/>
<rect x="1360" y="669" width="1" height="72"/>
<rect x="1368" y="669" width="1" height="74"/>
<rect x="1376" y="669" width="1" height="71"/>
<rect x="1384" y="669" width="1" height="70"/>
<rect x="1392" y="669" width="1" height="69"/>
<rect x="1400" y="669" width="1" height="67"/>
<rect x="1408" y="669" width="1" height="56"/>
</g>
<polyline fill="none" stroke="#ff0000" stroke-width="1" stroke-dasharray="3,3" shape-rendering="crispEdges" points="0.5,665.0 16.5,660.9 32.5,656.0 48.5,647.8 64.5,643.5 72.5,639.3 88.5,638.1 104.5,639.8 112.5,643.5 128.5,651.0 144.5,660.9 152.5,667.0 160.5,672.5 168.5,676.4 176.5,679.4 184.5,681.9 192.5,683.1 200.5,681.9 208.5,679.9 216.5,676.9 224.5,674.5 232.5,669.5 240.5,664.1 248.5,658.4 256.5,649.7 264.5,642.8 272.5,636.1 280.5,628.7 288.5,622.5 296.5,616.3 304.5,608.9 312.5,604.0 320.5,600.3 328.5,597.3 336.5,594.1 344.5,593.3 352.5,593.3 360.5,594.1 368.5,594.8 376.5,595.8 384.5,598.3 392.5,599.3 400.5,599.3 416.5,599.5 432.5,598.3 448.5,599.0 456.5,600.3 464.5,601.5 480.5,605.2 496.5,607.2 512.5,608.2 528.5,607.2 544.5,605.7 560.5,605.7 576.5,606.4 592.5,607.7 608.5,609.7 616.5,610.9 624.5,613.9 632.5,616.3 640.5,618.1 648.5,620.5 656.5,622.0 664.5,623.0 672.5,623.3 680.5,622.0 688.5,618.8 696.5,615.6 704.5,613.4 712.5,610.2 720.5,606.4 728.5,604.0 736.5,602.2 744.5,602.2 752.5,604.0 760.5,605.7 768.5,608.2 776.5,611.4 784.5,613.9 792.5,617.1 800.5,620.0 808.5,623.8 816.5,627.0 824.5,629.4 832.5,631.9 848.5,634.4 856.5,635.4 864.5,638.6 872.5,639.8 880.5,642.8 888.5,646.8 896.5,648.5 904.5,651.0 912.5,652.7 920.5,655.9 928.5,656.7 936.5,657.2 944.5,656.7 952.5,655.2 960.5,654.2 968.5,653.4 976.5,652.2 984.5,651.5 992.5,651.5 1000.5,651.5 1008.5,652.2 1016.5,653.4 1024.5,656.7 1032.5,659.6 1040.5,664.1 1048.5,666.5 1056.5,670.0 1064.5,674.5 1072.5,678.9 1080.5,682.4 1088.5,683.9 1096.5,685.6 1104.5,686.8 1112.5,687.3 1120.5,686.8 1128.5,686.1 1136.5,684.4 1144.5,683.1 1152.5,682.4 1160.5,683.1 1168.5,683.6 1176.5,684.4 1184.5,685.6 1192.5,686.8 1200.5,689.3 1208.5,691.3 1216.5,692.3 1224.5,693.0 1232.5,693.8 1248.5,694.2 1256.5,694.2 1264.5,694.2 1272.5,696.6 1280.5,697.5 1288.5,700.3 1296.5,703.0 1304.5,706.7 1312.5,710.4 1320.5,715.0 1328.5,718.7 1336.5,723.3 1344.5,727.0 1352.5,730.6 1360.5,732.5 1368.5,734.0 1376.5,735.2 1384.5,736.2 1392.5,736.5 1400.5,737.1 1408.5,736.5"/>
<g stroke="#c0c0c0" stroke-width="1" stroke-dasharray="3,3" stroke-dashoffset="1" shape-rendering="crispEdges">
<line x1="0" y1="787.5" x2="1651" y2="787.5"/>
<line x1="0" y1="838.5" x2="1651" y2="838.5"/>
<line x1="0" y1="899.5" x2="1651" y2="899.5"/>
</g>
<polyline fill="none" stroke="#1e90ff" stroke-width="1" shape-rendering="crispEdges" points="0.5,836.6 8.5,823.0 16.5,813.8 24.5,817.3 32.5,815.5 40.5,811.3 48.5,810.1 56.5,826.2 64.5,820.5 72.5,827.4 80.5,826.7 88.5,841.0 96.5,843.5 104.5,844.5 112.5,856.9 120.5,858.3 128.5,862.5 136.5,855.1 144.5,859.3 152.5,851.9 160.5,851.9 168.5,850.9 176.5,847.0 184.5,834.1 192.5,823.7 200.5,815.5 208.5,819.3 216.5,818.0 224.5,811.8 232.5,802.4 240.5,795.8 248.5,795.8 256.5,802.4 264.5,803.2 272.5,796.5 280.5,787.6 288.5,792.0 296.5,790.1 304.5,797.5 312.5,802.4 320.5,801.4 328.5,800.7 336.5,807.4 344.5,810.1 352.5,809.4 360.5,804.9 368.5,803.2 376.5,800.7 384.5,792.5 392.5,788.3 400.5,795.3 408.5,795.8 416.5,798.2 424.5,794.0 432.5,814.3 440.5,812.3 448.5,811.3 456.5,809.4 464.5,810.1 472.5,806.4 480.5,794.5 488.5,793.3 496.5,792.0 504.5,792.5 512.5,796.3 520.5,792.5 528.5,789.1 536.5,790.1 544.5,798.2 552.5,797.0 560.5,793.3 568.5,815.5 576.5,798.2 584.5,807.4 592.5,809.4 600.5,813.1 608.5,810.1 616.5,819.8 624.5,837.8 632.5,824.2 640.5,825.4 648.5,817.3 656.5,811.3 664.5,801.4 672.5,792.5 680.5,801.4 688.5,800.7 696.5,807.4 704.5,806.4 712.5,820.5 720.5,813.1 728.5,805.7 736.5,808.9 744.5,823.7 752.5,835.3 760.5,829.6 768.5,833.6 776.5,828.7 784.5,828.7 792.5,825.4 800.5,827.2 808.5,827.4 816.5,826.2 824.5,822.5 832.5,821.2 840.5,818.0 848.5,817.3 856.5,841.0 864.5,853.4 872.5,845.2 880.5,841.5 888.5,834.6 896.5,837.1 904.5,835.3 912.5,827.2 920.5,824.2 928.5,824.2 936.5,819.8 944.5,824.2 952.5,823.7 960.5,828.7 968.5,840.3 976.5,830.4 984.5,834.1 992.5,833.6 1000.5,830.4 1008.5,844.5 1016.5,851.9 1024.5,851.9 1032.5,862.5 1040.5,859.3 1048.5,856.9 1056.5,869.2 1064.5,853.4 1072.5,848.9 1080.5,841.5 1088.5,840.3 1096.5,844.5 1104.5,843.5 1112.5,846.5 1120.5,845.2 1128.5,833.6 1136.5,832.1 1144.5,853.9 1152.5,864.3 1160.5,854.4 1168.5,856.4 1176.5,856.4 1184.5,863.3 1192.5,844.5 1200.5,848.9 1208.5,853.4 1216.5,854.4 1224.5,846.4 1232.5,846.4 1240.5,855.1 1248.5,850.2 1256.5,856.3 1264.5,865.7 1272.5,871.4 1280.5,872.4 1288.5,876.3 1296.5,880.6 1304.5,880.6 1312.5,872.8 1320.5,868.6 1328.5,874.9 1336.5,882.0 1344.5,884.5 1352.5,883.4 1360.5,868.6 1368.5,876.3 1376.5,867.1 1384.5,871.4 1392.5,859.4 1400.5,849.2 1408.5,852.6"/>
<g style="font-family:'Liberation Sans',Arial,sans-serif">
<text x="-2" y="592" font-size="10" fill="#000" text-anchor="start" font-weight="normal" textLength="132.0" lengthAdjust="spacingAndGlyphs" >MACD(12,26,9) -0.5027 -0.6083</text>
<text x="-3" y="764.3" font-size="10" fill="#000" text-anchor="start" font-weight="normal" textLength="67.0" lengthAdjust="spacingAndGlyphs" >RSI(14) 41.3165</text>
<g shape-rendering="crispEdges" fill="#000">
<rect x="1652" y="581" width="2" height="1"/>
<rect x="1652" y="669" width="2" height="1"/>
<rect x="1652" y="748" width="2" height="1"/>
<rect x="1652" y="753" width="2" height="1"/>
<rect x="1652" y="787" width="2" height="1"/>
<rect x="1652" y="838" width="2" height="1"/>
<rect x="1652" y="899" width="2" height="1"/>
</g>
<text x="1655" y="590" font-size="9.6" fill="#000" text-anchor="start" font-weight="normal" textLength="27.7" lengthAdjust="spacingAndGlyphs" >0.7997</text>
<text x="1655" y="673" font-size="9.6" fill="#000" text-anchor="start" font-weight="normal" textLength="17.6" lengthAdjust="spacingAndGlyphs" >0.00</text>
<text x="1655" y="746" font-size="9.6" fill="#000" text-anchor="start" font-weight="normal" textLength="30.7" lengthAdjust="spacingAndGlyphs" >-0.7221</text>
<text x="1655" y="762" font-size="9.6" fill="#000" text-anchor="start" font-weight="normal" textLength="15.1" lengthAdjust="spacingAndGlyphs" >100</text>
<text x="1655" y="791" font-size="9.6" fill="#000" text-anchor="start" font-weight="normal" textLength="10.1" lengthAdjust="spacingAndGlyphs" >80</text>
<text x="1655" y="842" font-size="9.6" fill="#000" text-anchor="start" font-weight="normal" textLength="10.1" lengthAdjust="spacingAndGlyphs" >50</text>
<text x="1655" y="903" font-size="9.6" fill="#000" text-anchor="start" font-weight="normal" textLength="10.1" lengthAdjust="spacingAndGlyphs" >15</text>
<text x="1655" y="922" font-size="9.6" fill="#000" text-anchor="start" font-weight="normal" textLength="5.0" lengthAdjust="spacingAndGlyphs" >0</text>
</g>
<rect x="657.5" y="43.5" width="62" height="18" fill="#fff" stroke="#ff0000" stroke-width="1" shape-rendering="crispEdges"/>
<text x="660" y="58.5" font-size="15.5" fill="#ff0000" textLength="57" lengthAdjust="spacingAndGlyphs" style="font-family:'Liberation Sans',Arial,sans-serif">157.738</text>
<rect x="719" y="52" width="10" height="1" fill="#ff0000" shape-rendering="crispEdges"/>
<rect x="889.5" y="48.5" width="61" height="18" fill="#fff" stroke="#ff0000" stroke-width="1" shape-rendering="crispEdges"/>
<text x="892" y="63.5" font-size="15.5" fill="#ff0000" textLength="57" lengthAdjust="spacingAndGlyphs" style="font-family:'Liberation Sans',Arial,sans-serif">157.669</text>
<rect x="950" y="57" width="10" height="1" fill="#ff0000" shape-rendering="crispEdges"/>
<rect x="1187.5" y="279.5" width="73" height="25" fill="#fff" stroke="#ff0000" stroke-width="1" shape-rendering="crispEdges"/>
<text x="1189" y="299" font-size="19.5" fill="#ff0000" textLength="70" lengthAdjust="spacingAndGlyphs" style="font-family:'Liberation Sans',Arial,sans-serif">153.896</text>
<rect x="1177" y="291" width="10" height="1" fill="#ff0000" shape-rendering="crispEdges"/>
<rect x="1281.5" y="345.5" width="61" height="18" fill="#fff" stroke="#ff0000" stroke-width="1" shape-rendering="crispEdges"/>
<text x="1284" y="360.5" font-size="15.5" fill="#ff0000" textLength="56" lengthAdjust="spacingAndGlyphs" style="font-family:'Liberation Sans',Arial,sans-serif">152.883</text>
<polyline fill="none" stroke="#ff0000" stroke-width="3.2" stroke-linejoin="round" stroke-linecap="round" points="1197.5,146 1348,357.5 1409.5,284 1424,298.5"/>
<polygon points="1431,304 1418.5,300.5 1427,293" fill="#ff0000"/>
<polygon points="1402.5,290 1409.5,282.5 1416.5,290" fill="#ff0000"/>
<rect x="1316" y="289" width="144" height="7" fill="#00ff00" shape-rendering="crispEdges"/>
<g clip-path="url(#mac)">
<line x1="1265" y1="677" x2="1363.8" y2="737.3" stroke="#ff0000" stroke-width="4"/>
<polygon points="1374,743.5 1360.4,742.8 1367.1,731.7" fill="#ff0000"/>
<line x1="1371" y1="750" x2="1401.7" y2="731.7" stroke="#ff0000" stroke-width="4"/>
<polygon points="1412,725.5 1405.0,737.2 1398.4,726.1" fill="#ff0000"/>
</g>
<line x1="1320" y1="884.5" x2="1393.7" y2="858.9" stroke="#ff0000" stroke-width="4"/>
<polygon points="1405,855 1395.8,865.1 1391.5,852.8" fill="#ff0000"/>
</svg>
<svg width="1698" height="22" viewBox="0 0 1698 22" style="position:absolute;left:0;top:0">
<defs><linearGradient id="tbb" x1="0" y1="0" x2="0" y2="1"><stop offset="0" stop-color="#c8c8c8"/><stop offset="1" stop-color="#6a6a6a"/></linearGradient><linearGradient id="gold" x1="0" y1="0" x2="1" y2="1"><stop offset="0" stop-color="#f6d860"/><stop offset="1" stop-color="#b07818"/></linearGradient><linearGradient id="grn" x1="0" y1="0" x2="0" y2="1"><stop offset="0" stop-color="#7cf07c"/><stop offset="1" stop-color="#12a812"/></linearGradient><linearGradient id="badge" x1="0" y1="0" x2="0" y2="1"><stop offset="0" stop-color="#ee5533"/><stop offset="1" stop-color="#cc1a08"/></linearGradient><linearGradient id="bl" x1="0" y1="0" x2="0" y2="1"><stop offset="0" stop-color="#6fb0ff"/><stop offset="1" stop-color="#1a5fd0"/></linearGradient></defs>
<rect x="0" y="0" width="1698" height="20" fill="#f0f0f0"/>
<rect x="0" y="20" width="1698" height="2" fill="url(#tbb)"/>
<g shape-rendering="crispEdges">
<rect x="12" y="0" width="1" height="18" fill="#a0a0a0"/><rect x="13" y="0" width="1" height="18" fill="#fcfcfc"/>
<rect x="301" y="0" width="1" height="18" fill="#a0a0a0"/><rect x="302" y="0" width="1" height="18" fill="#fcfcfc"/>
<rect x="339" y="0" width="1" height="18" fill="#a0a0a0"/><rect x="340" y="0" width="1" height="18" fill="#fcfcfc"/>
<rect x="396" y="0" width="1" height="18" fill="#a0a0a0"/><rect x="397" y="0" width="1" height="18" fill="#fcfcfc"/>
<rect x="486" y="0" width="1" height="18" fill="#a0a0a0"/><rect x="487" y="0" width="1" height="18" fill="#fcfcfc"/>
<rect x="491" y="0" width="1" height="18" fill="#a0a0a0"/><rect x="492" y="0" width="1" height="18" fill="#fcfcfc"/>
<rect x="519" y="0" width="1" height="18" fill="#a0a0a0"/><rect x="520" y="0" width="1" height="18" fill="#fcfcfc"/>
<rect x="548" y="0" width="1" height="18" fill="#a0a0a0"/><rect x="549" y="0" width="1" height="18" fill="#fcfcfc"/>
<rect x="669" y="0" width="1" height="18" fill="#a0a0a0"/><rect x="670" y="0" width="1" height="18" fill="#fcfcfc"/>
<rect x="679" y="0" width="1" height="18" fill="#a0a0a0"/><rect x="680" y="0" width="1" height="18" fill="#fcfcfc"/>
<rect x="736" y="0" width="1" height="18" fill="#a0a0a0"/><rect x="737" y="0" width="1" height="18" fill="#fcfcfc"/>
<rect x="975" y="0" width="1" height="18" fill="#a0a0a0"/><rect x="976" y="0" width="1" height="18" fill="#fcfcfc"/>
<rect x="1125" y="0" width="1" height="18" fill="#a0a0a0"/><rect x="1126" y="0" width="1" height="18" fill="#fcfcfc"/>
<rect x="1236" y="0" width="1" height="18" fill="#a0a0a0"/><rect x="1237" y="0" width="1" height="18" fill="#fcfcfc"/>
<rect x="305" y="1" width="3" height="1" fill="#a8a8a8"/>
<rect x="305" y="3" width="3" height="1" fill="#a8a8a8"/>
<rect x="305" y="5" width="3" height="1" fill="#a8a8a8"/>
<rect x="305" y="7" width="3" height="1" fill="#a8a8a8"/>
<rect x="305" y="9" width="3" height="1" fill="#a8a8a8"/>
<rect x="305" y="11" width="3" height="1" fill="#a8a8a8"/>
<rect x="305" y="13" width="3" height="1" fill="#a8a8a8"/>
<rect x="305" y="15" width="3" height="1" fill="#a8a8a8"/>
<rect x="305" y="17" width="3" height="1" fill="#a8a8a8"/>
<rect x="673" y="1" width="3" height="1" fill="#a8a8a8"/>
<rect x="673" y="3" width="3" height="1" fill="#a8a8a8"/>
<rect x="673" y="5" width="3" height="1" fill="#a8a8a8"/>
<rect x="673" y="7" width="3" height="1" fill="#a8a8a8"/>
<rect x="673" y="9" width="3" height="1" fill="#a8a8a8"/>
<rect x="673" y="11" width="3" height="1" fill="#a8a8a8"/>
<rect x="673" y="13" width="3" height="1" fill="#a8a8a8"/>
<rect x="673" y="15" width="3" height="1" fill="#a8a8a8"/>
<rect x="673" y="17" width="3" height="1" fill="#a8a8a8"/>
<rect x="979" y="1" width="3" height="1" fill="#a8a8a8"/>
<rect x="979" y="3" width="3" height="1" fill="#a8a8a8"/>
<rect x="979" y="5" width="3" height="1" fill="#a8a8a8"/>
<rect x="979" y="7" width="3" height="1" fill="#a8a8a8"/>
<rect x="979" y="9" width="3" height="1" fill="#a8a8a8"/>
<rect x="979" y="11" width="3" height="1" fill="#a8a8a8"/>
<rect x="979" y="13" width="3" height="1" fill="#a8a8a8"/>
<rect x="979" y="15" width="3" height="1" fill="#a8a8a8"/>
<rect x="979" y="17" width="3" height="1" fill="#a8a8a8"/>
<rect x="340" y="0" width="24" height="19" fill="#f7f7f7"/>
<rect x="492" y="0" width="23" height="19" fill="#f7f7f7"/>
<rect x="520" y="0" width="24" height="19" fill="#f7f7f7"/>
<rect x="680" y="0" width="24" height="19" fill="#f7f7f7"/>
<rect x="1127" y="0" width="23" height="19" fill="#f7f7f7"/>
</g>
<path d="M0,10 L4,14" stroke="#c89a20" stroke-width="2.5"/><rect x="0" y="7" width="1" height="3" fill="#5b8fd8"/>
<path d="M22.5,-0.5 H30.5 L33.5,2.5 V13.5 H22.5 Z" fill="#ffffff" stroke="#666" stroke-width="1.2"/><path d="M30,-0.5 V3 H33.5" fill="#e0e0e0" stroke="#6e6e6e" stroke-width="1"/>
<g fill="#8a8a8a"><rect x="24" y="2" width="3" height="1.6"/><rect x="24" y="6" width="6" height="1"/><rect x="24" y="8" width="6" height="1"/><rect x="24" y="10" width="3" height="1"/></g>
<path d="M30.5,6.5 h3 v4 h4 v3 h-4 v4 h-3 v-4 h-4 v-3 h4 z" fill="url(#grn)" stroke="#007a00" stroke-width="1"/>
<path d="M118.5,9.5 L124,1.5 L133.5,8.5 L126,15.5 Z" fill="url(#gold)" stroke="#a86c14" stroke-width="0.9"/><path d="M119.5,11 L126,15.8 L133,10" fill="none" stroke="#c08a2a" stroke-width="1"/><path d="M120.5,9 L125,3 L131.5,8" fill="none" stroke="#f8e070" stroke-width="0.8"/>
<path d="M148.5,0 V9 H159 V0" fill="#3aa2ff" stroke="#1a6ad0" stroke-width="0.8"/><rect x="149" y="0" width="2.4" height="9" fill="#1880f0"/><rect x="153" y="3.5" width="4.5" height="1.2" fill="#e0f0ff"/>
<path d="M147,15.5 Q145,12 148.5,11.5 Q150,8 154,9.5 Q157,7.5 159,10.5 Q162.5,11 161.5,14 Q161,15.5 158,15.5 Z" fill="#eef2f8" stroke="#5a78a8" stroke-width="0.9"/>
<path d="M182,15.5 A7.5,7.5 0 0 1 182,0.5" fill="none" stroke="#5a8ad8" stroke-width="1"/><path d="M182,0.5 A7.5,7.5 0 0 1 182,15.5" fill="none" stroke="#7ab88a" stroke-width="1.2"/>
<path d="M182,12.5 A4.5,4.5 0 0 1 182,3.5" fill="none" stroke="#3a6ad0" stroke-width="1"/><path d="M182,3.5 A4.5,4.5 0 0 1 182,12.5" fill="none" stroke="#9ad0a0" stroke-width="1"/>
<circle cx="182" cy="7.8" r="1.6" fill="#2050c0"/><path d="M182.3,8 V15.5" stroke="#20a020" stroke-width="1.2"/>
<path d="M201,8.5 L217,8.5 L210,16 Z" fill="#f6d840" stroke="#c8a020" stroke-width="0.7"/>
<ellipse cx="209" cy="4.2" rx="7.8" ry="3" fill="#58a8e0" stroke="#3878b8" stroke-width="0.6"/><ellipse cx="209" cy="2" rx="3" ry="2.5" fill="#78c0f0"/>
<circle cx="213.5" cy="12" r="4" fill="#d82010"/><rect x="212.3" y="10.8" width="2.6" height="2.6" fill="#fff"/>
<path d="M319.5,2 V14.5 H331" fill="none" stroke="#505050" stroke-width="1"/><path d="M318,4 L319.5,2 L321,4 M329,13 L331,14.5 L329,16" fill="none" stroke="#505050" stroke-width="1"/><path d="M322.5,11.5 H325.5 V3.5 H328.5" fill="none" stroke="#18a018" stroke-width="1.2"/>
<path d="M347.5,2 V14.5 H359" fill="none" stroke="#505050" stroke-width="1"/><path d="M346,4 L347.5,2 L349,4 M357,13 L359,14.5 L357,16" fill="none" stroke="#505050" stroke-width="1"/><rect x="350.5" y="3.5" width="4" height="7" fill="#40d040" stroke="#108010" stroke-width="1"/><path d="M352.5,1 V13" stroke="#108010" stroke-width="1"/>
<path d="M375.5,2 V14.5 H387" fill="none" stroke="#505050" stroke-width="1"/><path d="M374,4 L375.5,2 L377,4 M385,13 L387,14.5 L385,16" fill="none" stroke="#505050" stroke-width="1"/><path d="M375,11 Q380,1 386,8" fill="none" stroke="#20a020" stroke-width="1.2"/>
<path d="M413,9 L419,15" stroke="#c8a020" stroke-width="3"/>
<circle cx="410" cy="5" r="5" fill="#d8ecff" stroke="#3a80d0" stroke-width="1.4"/>
<rect x="407" y="4" width="6" height="2" fill="#3a80d0"/>
<rect x="409" y="2" width="2" height="6" fill="#3a80d0"/>
<path d="M441,9 L447,15" stroke="#c8a020" stroke-width="3"/>
<circle cx="438" cy="5" r="5" fill="#d8ecff" stroke="#3a80d0" stroke-width="1.4"/>
<rect x="435" y="4" width="6" height="2" fill="#3a80d0"/>
<rect x="461" y="0" width="8" height="8" fill="#40a040"/><rect x="469" y="0" width="8" height="8" fill="#3070d0"/><rect x="461" y="8" width="8" height="8" fill="#3070d0"/><rect x="469" y="8" width="8" height="8" fill="#40a040"/>
<g fill="#fff"><rect x="463" y="3" width="4" height="2"/><rect x="471" y="3" width="4" height="2"/><rect x="463" y="11" width="4" height="2"/><rect x="471" y="11" width="4" height="2"/></g>
<path d="M499.5,2 V14.5 H511" fill="none" stroke="#505050" stroke-width="1"/><path d="M498,4 L499.5,2 L501,4 M509,13 L511,14.5 L509,16" fill="none" stroke="#505050" stroke-width="1"/><path d="M504,4 L508,7.5 L504,11 Z" fill="none" stroke="#20a020" stroke-width="1.2"/>
<path d="M527.5,2 V14.5 H539" fill="none" stroke="#505050" stroke-width="1"/><path d="M526,4 L527.5,2 L529,4 M537,13 L539,14.5 L537,16" fill="none" stroke="#505050" stroke-width="1"/><path d="M533.5,2 V12" stroke="#2060b0" stroke-width="1"/><path d="M539,7.5 H535 M537,5.5 L535,7.5 L537,9.5" fill="none" stroke="#d04010" stroke-width="1.3"/>
<path d="M558.5,0.5 H566.5 L569.5,3.5 V14.5 H558.5 Z" fill="#ffffff" stroke="#6e6e6e" stroke-width="1"/><path d="M566,0.5 V4 H569.5" fill="#e0e0e0" stroke="#6e6e6e" stroke-width="1"/>
<path d="M562,3 Q560,4 561,6 Q559.5,7 561,8 Q560,10 562,11" fill="none" stroke="#555" stroke-width="0.9"/>
<path d="M566.5,7.5 h3 v4 h4 v3 h-4 v4 h-3 v-4 h-4 v-3 h4 z" fill="url(#grn)" stroke="#007a00" stroke-width="1"/>
<path d="M580,8 h5 l-2.5,3 z" fill="#000"/>
<circle cx="604" cy="8" r="8" fill="#1f60c8"/><circle cx="604" cy="8" r="5.3" fill="#f4f8ff"/><path d="M604,4 V8 H607" fill="none" stroke="#404040" stroke-width="1"/>
<path d="M619,8 h5 l-2.5,3 z" fill="#000"/>
<rect x="635.5" y="1.5" width="15" height="13" fill="#fff" stroke="#3a70c0" stroke-width="1"/><rect x="636" y="2" width="14" height="2" fill="#6a9ad8"/>
<path d="M637,8 L640,6.5 L643,7.5 L646,6 L649,6.5" fill="none" stroke="#c04020" stroke-width="1"/><path d="M637,12.5 L640,11 L643,12 L646,10 L649,11" fill="none" stroke="#30a030" stroke-width="1"/>
<path d="M658,8 h5 l-2.5,3 z" fill="#000"/>
<path d="M687,1 L687,13 L690,10 L692.5,15 L694,14.3 L691.6,9.5 L695,9.5 Z" fill="#404040"/>
<g fill="#505050" shape-rendering="crispEdges"><rect x="712" y="8" width="6" height="1"/><rect x="721" y="8" width="6" height="1"/><rect x="719" y="1" width="1" height="6"/><rect x="719" y="10" width="1" height="6"/></g>
<g fill="#505050" shape-rendering="crispEdges"><rect x="753" y="2" width="1" height="13"/><rect x="776" y="8" width="12" height="1"/></g>
<path d="M804,15 L816,3" stroke="#505050" stroke-width="1"/>
<g stroke="#505050" stroke-width="1" fill="none"><path d="M830,10 L840,1 M831,13 L842,3 M833,15 L844,5"/><path d="M832,7 L837,12 M836,4 L840,8"/></g>
<text x="840.5" y="17.5" font-size="7.5" font-weight="bold" fill="#404040" style="font-family:Liberation Sans,sans-serif">E</text>
<g fill="#606060" shape-rendering="crispEdges"><rect x="859" y="1" width="1" height="1"/><rect x="861" y="1" width="1" height="1"/><rect x="863" y="1" width="1" height="1"/><rect x="865" y="1" width="1" height="1"/><rect x="867" y="1" width="1" height="1"/><rect x="869" y="1" width="1" height="1"/><rect x="871" y="1" width="1" height="1"/><rect x="859" y="5" width="1" height="1"/><rect x="861" y="5" width="1" height="1"/><rect x="863" y="5" width="1" height="1"/><rect x="865" y="5" width="1" height="1"/><rect x="867" y="5" width="1" height="1"/><rect x="869" y="5" width="1" height="1"/><rect x="871" y="5" width="1" height="1"/><rect x="859" y="8" width="1" height="1"/><rect x="861" y="8" width="1" height="1"/><rect x="863" y="8" width="1" height="1"/><rect x="865" y="8" width="1" height="1"/><rect x="867" y="8" width="1" height="1"/><rect x="869" y="8" width="1" height="1"/><rect x="871" y="8" width="1" height="1"/><rect x="859" y="12" width="1" height="1"/><rect x="861" y="12" width="1" height="1"/><rect x="863" y="12" width="1" height="1"/><rect x="865" y="12" width="1" height="1"/><rect x="867" y="12" width="1" height="1"/><rect x="869" y="12" width="1" height="1"/><rect x="871" y="12" width="1" height="1"/></g>
<text x="868.5" y="17.5" font-size="7.5" font-weight="bold" fill="#404040" style="font-family:Liberation Sans,sans-serif">F</text>
<text x="889.5" y="12.7" font-size="12" font-weight="bold" fill="#505050" style="font-family:Liberation Sans,sans-serif">A</text>
<g fill="#606060" shape-rendering="crispEdges"><rect x="915" y="1" width="1" height="1"/><rect x="915" y="14" width="1" height="1"/><rect x="917" y="1" width="1" height="1"/><rect x="917" y="14" width="1" height="1"/><rect x="919" y="1" width="1" height="1"/><rect x="919" y="14" width="1" height="1"/><rect x="921" y="1" width="1" height="1"/><rect x="921" y="14" width="1" height="1"/><rect x="923" y="1" width="1" height="1"/><rect x="923" y="14" width="1" height="1"/><rect x="925" y="1" width="1" height="1"/><rect x="925" y="14" width="1" height="1"/><rect x="927" y="1" width="1" height="1"/><rect x="927" y="14" width="1" height="1"/><rect x="915" y="1" width="1" height="1"/><rect x="927" y="1" width="1" height="1"/><rect x="915" y="3" width="1" height="1"/><rect x="927" y="3" width="1" height="1"/><rect x="915" y="5" width="1" height="1"/><rect x="927" y="5" width="1" height="1"/><rect x="915" y="7" width="1" height="1"/><rect x="927" y="7" width="1" height="1"/><rect x="915" y="9" width="1" height="1"/><rect x="927" y="9" width="1" height="1"/><rect x="915" y="11" width="1" height="1"/><rect x="927" y="11" width="1" height="1"/><rect x="915" y="13" width="1" height="1"/><rect x="927" y="13" width="1" height="1"/></g>
<text x="917" y="12.5" font-size="11" font-weight="bold" fill="#505050" style="font-family:Liberation Sans,sans-serif">T</text>
<path d="M943,4 L946,1.5 L949,4 L946,6.5 Z M952,11 L955,8.5 L958,11 L955,13.5 Z" fill="#404040"/><path d="M945,8 L947.5,11 L953,5" fill="none" stroke="#404040" stroke-width="1.5"/>
<path d="M964,8 h5 l-2.5,3 z" fill="#000"/>
<path d="M1651,8 L1646.5,12.5" stroke="#2058c8" stroke-width="2.4" stroke-linecap="round"/><circle cx="1653.7" cy="5.2" r="3.6" fill="#f4f6ff" stroke="#2466d0" stroke-width="1.3"/>
<ellipse cx="1676.5" cy="10" rx="6.5" ry="4.5" fill="#eceef4" stroke="#a8a8a8" stroke-width="0.9"/><path d="M1673,14 L1673,17 L1676,14.2" fill="#eceef4" stroke="#a0a0a0" stroke-width="0.8"/>
<circle cx="1684.5" cy="6" r="7.8" fill="url(#badge)"/>
<text x="1684.5" y="10.3" font-size="12" font-weight="bold" fill="#fff" text-anchor="middle" style="font-family:Liberation Serif,serif">1</text>
<text x="41.7" y="11" font-size="12.6" fill="#000" textLength="64" lengthAdjust="spacingAndGlyphs" style="font-family:'Liberation Sans',Arial,sans-serif">New Order</text>
<text x="222.4" y="11.6" font-size="12.6" fill="#000" textLength="70.6" lengthAdjust="spacingAndGlyphs" style="font-family:'Liberation Sans',Arial,sans-serif">AutoTrading</text>
<text x="990.8" y="11.8" font-size="9.4" fill="#202020" textLength="12.2" lengthAdjust="spacingAndGlyphs" style="font-family:'Liberation Sans',Arial,sans-serif">M1</text>
<text x="1018.4" y="11.8" font-size="9.4" fill="#202020" textLength="13.0" lengthAdjust="spacingAndGlyphs" style="font-family:'Liberation Sans',Arial,sans-serif">M5</text>
<text x="1044.6" y="11.8" font-size="9.4" fill="#202020" textLength="17.5" lengthAdjust="spacingAndGlyphs" style="font-family:'Liberation Sans',Arial,sans-serif">M15</text>
<text x="1072.5" y="11.8" font-size="9.4" fill="#202020" textLength="17.5" lengthAdjust="spacingAndGlyphs" style="font-family:'Liberation Sans',Arial,sans-serif">M30</text>
<text x="1103.5" y="11.8" font-size="9.4" fill="#202020" textLength="11.7" lengthAdjust="spacingAndGlyphs" style="font-family:'Liberation Sans',Arial,sans-serif">H1</text>
<text x="1130.8" y="11.8" font-size="9.4" fill="#202020" textLength="11.6" lengthAdjust="spacingAndGlyphs" style="font-family:'Liberation Sans',Arial,sans-serif">H4</text>
<text x="1159.2" y="11.8" font-size="9.4" fill="#202020" textLength="11.8" lengthAdjust="spacingAndGlyphs" style="font-family:'Liberation Sans',Arial,sans-serif">D1</text>
<text x="1187" y="11.8" font-size="9.4" fill="#202020" textLength="13.7" lengthAdjust="spacingAndGlyphs" style="font-family:'Liberation Sans',Arial,sans-serif">W1</text>
<text x="1213.6" y="11.8" font-size="9.4" fill="#202020" textLength="14.9" lengthAdjust="spacingAndGlyphs" style="font-family:'Liberation Sans',Arial,sans-serif">MN</text>
</svg>
<svg width="216" height="104" viewBox="0 0 216 104" style="position:absolute;left:0;top:0">
<defs><linearGradient id="btn" x1="0" y1="0" x2="0" y2="1"><stop offset="0" stop-color="#5c5cff"/><stop offset="1" stop-color="#3434e4"/></linearGradient><linearGradient id="pan" x1="0" y1="0" x2="0" y2="1"><stop offset="0" stop-color="#3030e6"/><stop offset="1" stop-color="#0000b4"/></linearGradient><linearGradient id="spb" x1="0" y1="0" x2="0" y2="1"><stop offset="0" stop-color="#f4f4f4"/><stop offset="0.45" stop-color="#e8e8e8"/><stop offset="0.5" stop-color="#dcdcdc"/><stop offset="1" stop-color="#d0d0d0"/></linearGradient><linearGradient id="panu" gradientUnits="userSpaceOnUse" x1="0" y1="68" x2="0" y2="101"><stop offset="0" stop-color="#3030e6"/><stop offset="1" stop-color="#0000b4"/></linearGradient></defs>
<g shape-rendering="crispEdges">
<rect x="0" y="44" width="47" height="25" fill="#1010c8"/>
<rect x="0" y="45" width="46" height="23" fill="url(#btn)"/>
<rect x="0" y="67" width="43" height="1" fill="#1818a8"/>
<rect x="162" y="44" width="52" height="25" fill="#1010c8"/>
<rect x="163" y="45" width="50" height="23" fill="url(#btn)"/>
<rect x="166" y="67" width="44" height="1" fill="#1818a8"/>
<rect x="166" y="68" width="44" height="1" fill="#6a6aff"/>
<rect x="0" y="68" width="104" height="33" fill="url(#pan)"/>
<rect x="106" y="68" width="108" height="33" fill="url(#pan)"/>
<rect x="0" y="68" width="43" height="1" fill="#6a6aff"/>
<rect x="46" y="68" width="58" height="1" fill="#0a0aa8"/>
<rect x="106" y="68" width="57" height="1" fill="#0a0aa8"/>
<rect x="49" y="44" width="111" height="22" fill="#a8a8a8"/>
<rect x="50" y="45" width="109" height="20" fill="#fff"/>
<rect x="50" y="45" width="20" height="20" fill="url(#spb)"/>
<rect x="70" y="45" width="1" height="20" fill="#a8a8a8"/>
<rect x="139" y="45" width="20" height="20" fill="url(#spb)"/>
<rect x="138" y="45" width="1" height="20" fill="#a8a8a8"/>
</g>
<path d="M57.5,53.5 h5 l-2.5,2.5 z" fill="#5068b8"/>
<path d="M146.5,56 h5 l-2.5,-2.5 z" fill="#5068b8"/>
<text x="111.7" y="59" font-size="12" fill="#000" textLength="23" lengthAdjust="spacingAndGlyphs" style="font-family:'Liberation Sans',Arial,sans-serif">1.00</text>
<text x="7.6" y="59.6" font-size="12" fill="#fff" textLength="25.2" lengthAdjust="spacingAndGlyphs" style="font-family:'Liberation Sans',Arial,sans-serif">SELL</text>
<text x="175.8" y="60" font-size="12" fill="#fff" textLength="23" lengthAdjust="spacingAndGlyphs" style="font-family:'Liberation Sans',Arial,sans-serif">BUY</text>
<text x="18" y="96" font-size="12.2" font-weight="bold" fill="#fff" textLength="21" lengthAdjust="spacingAndGlyphs" style="font-family:'Liberation Sans',Arial,sans-serif">153</text>
<text x="42" y="96.4" font-size="34.8" fill="#fff" stroke="url(#panu)" stroke-width="0.55" textLength="36" lengthAdjust="spacingAndGlyphs" style="font-family:'Liberation Sans',Arial,sans-serif">76</text>
<text x="81.6" y="80.2" font-size="12.5" fill="#fff" textLength="7.4" lengthAdjust="spacingAndGlyphs" style="font-family:'Liberation Sans',Arial,sans-serif">7</text>
<text x="128.7" y="96" font-size="12.2" font-weight="bold" fill="#fff" textLength="20.2" lengthAdjust="spacingAndGlyphs" style="font-family:'Liberation Sans',Arial,sans-serif">153</text>
<text x="153.6" y="96.4" font-size="34.8" fill="#fff" stroke="url(#panu)" stroke-width="0.55" textLength="34.8" lengthAdjust="spacingAndGlyphs" style="font-family:'Liberation Sans',Arial,sans-serif">81</text>
<text x="193.5" y="80" font-size="12" font-weight="bold" fill="#fff" textLength="6.7" lengthAdjust="spacingAndGlyphs" style="font-family:'Liberation Sans',Arial,sans-serif">6</text>
</svg>
</div></body></html>
